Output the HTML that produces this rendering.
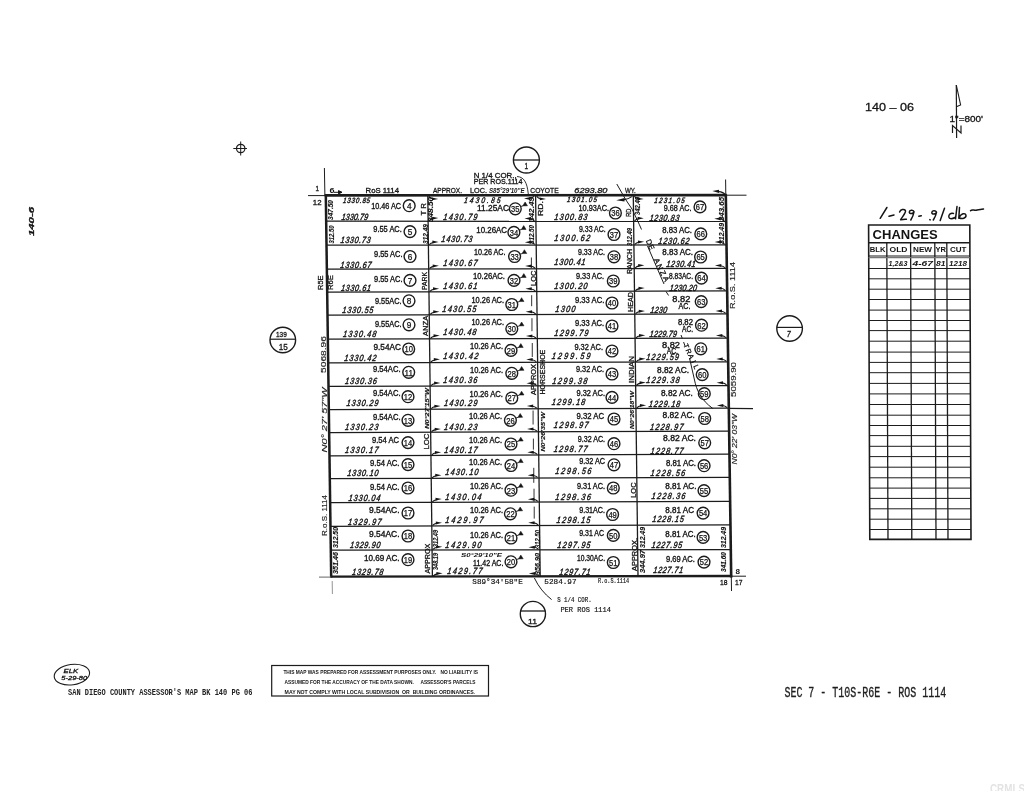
<!DOCTYPE html>
<html><head><meta charset="utf-8"><title>Assessor Map</title>
<style>
html,body{margin:0;padding:0;background:#fff;}
body{width:1024px;height:791px;overflow:hidden;font-family:"Liberation Sans",sans-serif;}
svg{display:block;filter:grayscale(100%);}
</style></head><body>
<svg width="1024" height="791" viewBox="0 0 1024 791" font-family="Liberation Sans, sans-serif">
<rect width="1024" height="791" fill="#ffffff"/>
<line x1="326.17" y1="221.2" x2="726.17" y2="221.4" stroke="#1c1c1c" stroke-width="1.25"/>
<line x1="326.51" y1="245.2" x2="726.5" y2="244.8" stroke="#1c1c1c" stroke-width="1.25"/>
<line x1="326.85" y1="269.2" x2="726.83" y2="268.3" stroke="#1c1c1c" stroke-width="1.25"/>
<line x1="327.17" y1="292.2" x2="727.15" y2="290.9" stroke="#1c1c1c" stroke-width="1.25"/>
<line x1="327.5" y1="315.2" x2="727.48" y2="313.8" stroke="#1c1c1c" stroke-width="1.25"/>
<line x1="327.84" y1="339" x2="727.82" y2="338.2" stroke="#1c1c1c" stroke-width="1.25"/>
<line x1="328.17" y1="362.8" x2="728.16" y2="361.8" stroke="#1c1c1c" stroke-width="1.25"/>
<line x1="328.51" y1="386.3" x2="728.49" y2="385.5" stroke="#1c1c1c" stroke-width="1.25"/>
<line x1="328.83" y1="409.5" x2="728.81" y2="408.1" stroke="#1c1c1c" stroke-width="1.25"/>
<line x1="329.16" y1="432.6" x2="729.14" y2="431.1" stroke="#1c1c1c" stroke-width="1.25"/>
<line x1="329.49" y1="455.8" x2="729.47" y2="454.2" stroke="#1c1c1c" stroke-width="1.25"/>
<line x1="329.81" y1="478.7" x2="729.8" y2="477.4" stroke="#1c1c1c" stroke-width="1.25"/>
<line x1="330.15" y1="502.6" x2="730.13" y2="501.3" stroke="#1c1c1c" stroke-width="1.25"/>
<line x1="330.49" y1="526.3" x2="730.47" y2="524.8" stroke="#1c1c1c" stroke-width="1.25"/>
<line x1="330.82" y1="550" x2="730.82" y2="549.7" stroke="#1c1c1c" stroke-width="1.25"/>
<line x1="324.8" y1="195.4" x2="726.8" y2="195.1" stroke="#1c1c1c" stroke-width="2.6"/>
<line x1="330.2" y1="576.6" x2="732.19" y2="576" stroke="#1c1c1c" stroke-width="2.4"/>
<line x1="427.8" y1="195.3" x2="432.4" y2="576.5" stroke="#1c1c1c" stroke-width="1.3"/>
<line x1="535.6" y1="195.3" x2="540.2" y2="576.5" stroke="#1c1c1c" stroke-width="1.3"/>
<line x1="633.3" y1="195.3" x2="638" y2="576.5" stroke="#1c1c1c" stroke-width="1.3"/>
<line x1="325.8" y1="194.5" x2="331.2" y2="577.5" stroke="#1c1c1c" stroke-width="2.5"/>
<line x1="725.8" y1="194.5" x2="731.2" y2="577.5" stroke="#1c1c1c" stroke-width="2.6"/>
<line x1="324.4" y1="168" x2="324.9" y2="195.5" stroke="#1c1c1c" stroke-width="1"/>
<line x1="308" y1="195.6" x2="326" y2="195.6" stroke="#1c1c1c" stroke-width="1"/>
<line x1="725.6" y1="179.5" x2="725.8" y2="195" stroke="#1c1c1c" stroke-width="1"/>
<line x1="726" y1="195.2" x2="746.5" y2="195.2" stroke="#1c1c1c" stroke-width="1"/>
<line x1="731.3" y1="577" x2="731.5" y2="591" stroke="#1c1c1c" stroke-width="1"/>
<line x1="731" y1="576.2" x2="746" y2="576.2" stroke="#1c1c1c" stroke-width="1"/>
<line x1="319" y1="577.1" x2="331" y2="577.1" stroke="#666" stroke-width="1"/>
<line x1="729" y1="408.3" x2="753" y2="408.7" stroke="#1c1c1c" stroke-width="1.2"/>
<line x1="332.2" y1="581" x2="332.4" y2="594" stroke="#888" stroke-width="0.9"/>
<text x="371.2" y="206" font-size="8.3" stroke="#141414" stroke-width="0.35" textLength="29.9" lengthAdjust="spacingAndGlyphs" fill="#141414" dominant-baseline="central">10.46 AC</text>
<circle cx="409.2" cy="205.7" r="5.9" stroke="#1c1c1c" stroke-width="1.4" fill="none"/>
<text x="406.9" y="206" font-size="8.4" stroke="#141414" stroke-width="0.25" textLength="4.6" lengthAdjust="spacingAndGlyphs" fill="#141414" dominant-baseline="central">4</text>
<text transform="translate(341.7 217.7) skewX(-9) scale(0.8 1)" x="0" y="0" font-size="9" font-style="italic" stroke="#141414" stroke-width="0.42" textLength="33" lengthAdjust="spacing" fill="#141414" dominant-baseline="central">1330.79</text>
<text x="373.3" y="229" font-size="8.3" stroke="#141414" stroke-width="0.35" textLength="28.5" lengthAdjust="spacingAndGlyphs" fill="#141414" dominant-baseline="central">9.55 AC.</text>
<circle cx="410" cy="231.6" r="5.9" stroke="#1c1c1c" stroke-width="1.4" fill="none"/>
<text x="407.7" y="231.9" font-size="8.4" stroke="#141414" stroke-width="0.25" textLength="4.6" lengthAdjust="spacingAndGlyphs" fill="#141414" dominant-baseline="central">5</text>
<text transform="translate(340.7 240.6) skewX(-9) scale(0.8 1)" x="0" y="0" font-size="9" font-style="italic" stroke="#141414" stroke-width="0.42" textLength="37.5" lengthAdjust="spacing" fill="#141414" dominant-baseline="central">1330.73</text>
<text x="374" y="254.3" font-size="8.3" stroke="#141414" stroke-width="0.35" textLength="28.5" lengthAdjust="spacingAndGlyphs" fill="#141414" dominant-baseline="central">9.55 AC.</text>
<circle cx="410" cy="256.5" r="5.9" stroke="#1c1c1c" stroke-width="1.4" fill="none"/>
<text x="407.7" y="256.8" font-size="8.4" stroke="#141414" stroke-width="0.25" textLength="4.6" lengthAdjust="spacingAndGlyphs" fill="#141414" dominant-baseline="central">6</text>
<text transform="translate(340.5 264.8) skewX(-9) scale(0.8 1)" x="0" y="0" font-size="9" font-style="italic" stroke="#141414" stroke-width="0.42" textLength="38.75" lengthAdjust="spacing" fill="#141414" dominant-baseline="central">1330.67</text>
<text x="374" y="279" font-size="8.3" stroke="#141414" stroke-width="0.35" textLength="28.5" lengthAdjust="spacingAndGlyphs" fill="#141414" dominant-baseline="central">9.55 AC.</text>
<circle cx="410" cy="280.4" r="5.9" stroke="#1c1c1c" stroke-width="1.4" fill="none"/>
<text x="407.7" y="280.7" font-size="8.4" stroke="#141414" stroke-width="0.25" textLength="4.6" lengthAdjust="spacingAndGlyphs" fill="#141414" dominant-baseline="central">7</text>
<text transform="translate(341.1 287.8) skewX(-9) scale(0.8 1)" x="0" y="0" font-size="9" font-style="italic" stroke="#141414" stroke-width="0.42" textLength="37.37" lengthAdjust="spacing" fill="#141414" dominant-baseline="central">1330.61</text>
<text x="375" y="301" font-size="8.3" stroke="#141414" stroke-width="0.35" textLength="26.5" lengthAdjust="spacingAndGlyphs" fill="#141414" dominant-baseline="central">9.55AC.</text>
<circle cx="409" cy="300.8" r="5.9" stroke="#1c1c1c" stroke-width="1.4" fill="none"/>
<text x="406.7" y="301.1" font-size="8.4" stroke="#141414" stroke-width="0.25" textLength="4.6" lengthAdjust="spacingAndGlyphs" fill="#141414" dominant-baseline="central">8</text>
<text transform="translate(342.5 310.6) skewX(-9) scale(0.8 1)" x="0" y="0" font-size="9" font-style="italic" stroke="#141414" stroke-width="0.42" textLength="38.75" lengthAdjust="spacing" fill="#141414" dominant-baseline="central">1330.55</text>
<text x="375" y="324" font-size="8.3" stroke="#141414" stroke-width="0.35" textLength="26.5" lengthAdjust="spacingAndGlyphs" fill="#141414" dominant-baseline="central">9.55AC.</text>
<circle cx="409" cy="324.8" r="5.9" stroke="#1c1c1c" stroke-width="1.4" fill="none"/>
<text x="406.7" y="325.1" font-size="8.4" stroke="#141414" stroke-width="0.25" textLength="4.6" lengthAdjust="spacingAndGlyphs" fill="#141414" dominant-baseline="central">9</text>
<text transform="translate(343.2 334.6) skewX(-9) scale(0.8 1)" x="0" y="0" font-size="9" font-style="italic" stroke="#141414" stroke-width="0.42" textLength="41.63" lengthAdjust="spacing" fill="#141414" dominant-baseline="central">1330.48</text>
<text x="373.5" y="347" font-size="8.3" stroke="#141414" stroke-width="0.35" textLength="27.5" lengthAdjust="spacingAndGlyphs" fill="#141414" dominant-baseline="central">9.54AC</text>
<circle cx="408.7" cy="349" r="5.9" stroke="#1c1c1c" stroke-width="1.4" fill="none"/>
<text x="404.5" y="349.3" font-size="8.4" stroke="#141414" stroke-width="0.25" textLength="8.4" lengthAdjust="spacingAndGlyphs" fill="#141414" dominant-baseline="central">10</text>
<text transform="translate(344.5 358.4) skewX(-9) scale(0.8 1)" x="0" y="0" font-size="9" font-style="italic" stroke="#141414" stroke-width="0.42" textLength="40" lengthAdjust="spacing" fill="#141414" dominant-baseline="central">1330.42</text>
<text x="373" y="369.3" font-size="8.3" stroke="#141414" stroke-width="0.35" textLength="27.5" lengthAdjust="spacingAndGlyphs" fill="#141414" dominant-baseline="central">9.54AC.</text>
<circle cx="408.7" cy="372.3" r="5.9" stroke="#1c1c1c" stroke-width="1.4" fill="none"/>
<text x="404.5" y="372.6" font-size="8.4" stroke="#141414" stroke-width="0.25" textLength="8.4" lengthAdjust="spacingAndGlyphs" fill="#141414" dominant-baseline="central">11</text>
<text transform="translate(345.3 381.4) skewX(-9) scale(0.8 1)" x="0" y="0" font-size="9" font-style="italic" stroke="#141414" stroke-width="0.42" textLength="39.62" lengthAdjust="spacing" fill="#141414" dominant-baseline="central">1330.36</text>
<text x="373" y="393.2" font-size="8.3" stroke="#141414" stroke-width="0.35" textLength="27.5" lengthAdjust="spacingAndGlyphs" fill="#141414" dominant-baseline="central">9.54AC.</text>
<circle cx="408" cy="396.7" r="5.9" stroke="#1c1c1c" stroke-width="1.4" fill="none"/>
<text x="403.8" y="397" font-size="8.4" stroke="#141414" stroke-width="0.25" textLength="8.4" lengthAdjust="spacingAndGlyphs" fill="#141414" dominant-baseline="central">12</text>
<text transform="translate(346.7 403.4) skewX(-9) scale(0.8 1)" x="0" y="0" font-size="9" font-style="italic" stroke="#141414" stroke-width="0.42" textLength="39.75" lengthAdjust="spacing" fill="#141414" dominant-baseline="central">1330.29</text>
<text x="373" y="416.9" font-size="8.3" stroke="#141414" stroke-width="0.35" textLength="27.5" lengthAdjust="spacingAndGlyphs" fill="#141414" dominant-baseline="central">9.54AC.</text>
<circle cx="408" cy="420.3" r="5.9" stroke="#1c1c1c" stroke-width="1.4" fill="none"/>
<text x="403.8" y="420.6" font-size="8.4" stroke="#141414" stroke-width="0.25" textLength="8.4" lengthAdjust="spacingAndGlyphs" fill="#141414" dominant-baseline="central">13</text>
<text transform="translate(345.3 427.4) skewX(-9) scale(0.8 1)" x="0" y="0" font-size="9" font-style="italic" stroke="#141414" stroke-width="0.42" textLength="41.5" lengthAdjust="spacing" fill="#141414" dominant-baseline="central">1330.23</text>
<text x="372" y="439.8" font-size="8.3" stroke="#141414" stroke-width="0.35" textLength="27" lengthAdjust="spacingAndGlyphs" fill="#141414" dominant-baseline="central">9.54 AC</text>
<circle cx="408" cy="442.6" r="5.9" stroke="#1c1c1c" stroke-width="1.4" fill="none"/>
<text x="403.8" y="442.9" font-size="8.4" stroke="#141414" stroke-width="0.25" textLength="8.4" lengthAdjust="spacingAndGlyphs" fill="#141414" dominant-baseline="central">14</text>
<text transform="translate(345.3 450.6) skewX(-9) scale(0.8 1)" x="0" y="0" font-size="9" font-style="italic" stroke="#141414" stroke-width="0.42" textLength="41.5" lengthAdjust="spacing" fill="#141414" dominant-baseline="central">1330.17</text>
<text x="370" y="462.8" font-size="8.3" stroke="#141414" stroke-width="0.35" textLength="29.5" lengthAdjust="spacingAndGlyphs" fill="#141414" dominant-baseline="central">9.54 AC.</text>
<circle cx="408" cy="464.6" r="5.9" stroke="#1c1c1c" stroke-width="1.4" fill="none"/>
<text x="403.8" y="464.9" font-size="8.4" stroke="#141414" stroke-width="0.25" textLength="8.4" lengthAdjust="spacingAndGlyphs" fill="#141414" dominant-baseline="central">15</text>
<text transform="translate(347.4 472.9) skewX(-9) scale(0.8 1)" x="0" y="0" font-size="9" font-style="italic" stroke="#141414" stroke-width="0.42" textLength="38.88" lengthAdjust="spacing" fill="#141414" dominant-baseline="central">1330.10</text>
<text x="370" y="487.4" font-size="8.3" stroke="#141414" stroke-width="0.35" textLength="29.5" lengthAdjust="spacingAndGlyphs" fill="#141414" dominant-baseline="central">9.54 AC.</text>
<circle cx="408" cy="488" r="5.9" stroke="#1c1c1c" stroke-width="1.4" fill="none"/>
<text x="403.8" y="488.3" font-size="8.4" stroke="#141414" stroke-width="0.25" textLength="8.4" lengthAdjust="spacingAndGlyphs" fill="#141414" dominant-baseline="central">16</text>
<text transform="translate(348.7 498.2) skewX(-9) scale(0.8 1)" x="0" y="0" font-size="9" font-style="italic" stroke="#141414" stroke-width="0.42" textLength="39.75" lengthAdjust="spacing" fill="#141414" dominant-baseline="central">1330.04</text>
<text x="369" y="510.3" font-size="8.3" stroke="#141414" stroke-width="0.35" textLength="30.5" lengthAdjust="spacingAndGlyphs" fill="#141414" dominant-baseline="central">9.54AC.</text>
<circle cx="408" cy="513" r="5.9" stroke="#1c1c1c" stroke-width="1.4" fill="none"/>
<text x="403.8" y="513.3" font-size="8.4" stroke="#141414" stroke-width="0.25" textLength="8.4" lengthAdjust="spacingAndGlyphs" fill="#141414" dominant-baseline="central">17</text>
<text transform="translate(348.1 522.1) skewX(-9) scale(0.8 1)" x="0" y="0" font-size="9" font-style="italic" stroke="#141414" stroke-width="0.42" textLength="41.75" lengthAdjust="spacing" fill="#141414" dominant-baseline="central">1329.97</text>
<text x="369" y="534" font-size="8.3" stroke="#141414" stroke-width="0.35" textLength="30.5" lengthAdjust="spacingAndGlyphs" fill="#141414" dominant-baseline="central">9.54AC.</text>
<circle cx="408" cy="536" r="5.9" stroke="#1c1c1c" stroke-width="1.4" fill="none"/>
<text x="403.8" y="536.3" font-size="8.4" stroke="#141414" stroke-width="0.25" textLength="8.4" lengthAdjust="spacingAndGlyphs" fill="#141414" dominant-baseline="central">18</text>
<text transform="translate(350.1 545.5) skewX(-9) scale(0.8 1)" x="0" y="0" font-size="9" font-style="italic" stroke="#141414" stroke-width="0.42" textLength="38" lengthAdjust="spacing" fill="#141414" dominant-baseline="central">1329.90</text>
<text x="364" y="558.3" font-size="8.3" stroke="#141414" stroke-width="0.35" textLength="35.5" lengthAdjust="spacingAndGlyphs" fill="#141414" dominant-baseline="central">10.69 AC.</text>
<circle cx="408" cy="559.7" r="5.9" stroke="#1c1c1c" stroke-width="1.4" fill="none"/>
<text x="403.8" y="560" font-size="8.4" stroke="#141414" stroke-width="0.25" textLength="8.4" lengthAdjust="spacingAndGlyphs" fill="#141414" dominant-baseline="central">19</text>
<text transform="translate(352.2 571.9) skewX(-9) scale(0.8 1)" x="0" y="0" font-size="9" font-style="italic" stroke="#141414" stroke-width="0.42" textLength="39.13" lengthAdjust="spacing" fill="#141414" dominant-baseline="central">1329.78</text>
<text x="477" y="208" font-size="8.3" stroke="#141414" stroke-width="0.35" textLength="32" lengthAdjust="spacingAndGlyphs" fill="#141414" dominant-baseline="central">11.25AC</text>
<circle cx="515.3" cy="208.8" r="5.9" stroke="#1c1c1c" stroke-width="1.4" fill="none"/>
<text x="511.1" y="209.1" font-size="8.4" stroke="#141414" stroke-width="0.25" textLength="8.4" lengthAdjust="spacingAndGlyphs" fill="#141414" dominant-baseline="central">35</text>
<text transform="translate(443.5 217.1) skewX(-9) scale(0.8 1)" x="0" y="0" font-size="9" font-style="italic" stroke="#141414" stroke-width="0.42" textLength="42.5" lengthAdjust="spacing" fill="#141414" dominant-baseline="central">1430.79</text>
<text x="476.3" y="230.3" font-size="8.3" stroke="#141414" stroke-width="0.35" textLength="30.7" lengthAdjust="spacingAndGlyphs" fill="#141414" dominant-baseline="central">10.26AC</text>
<circle cx="513.9" cy="232.4" r="5.9" stroke="#1c1c1c" stroke-width="1.4" fill="none"/>
<text x="509.7" y="232.7" font-size="8.4" stroke="#141414" stroke-width="0.25" textLength="8.4" lengthAdjust="spacingAndGlyphs" fill="#141414" dominant-baseline="central">34</text>
<text transform="translate(441.5 239.1) skewX(-9) scale(0.8 1)" x="0" y="0" font-size="9" font-style="italic" stroke="#141414" stroke-width="0.42" textLength="38.75" lengthAdjust="spacing" fill="#141414" dominant-baseline="central">1430.73</text>
<text x="474" y="251.9" font-size="8.3" stroke="#141414" stroke-width="0.35" textLength="31.5" lengthAdjust="spacingAndGlyphs" fill="#141414" dominant-baseline="central">10.26 AC.</text>
<circle cx="514.6" cy="256.5" r="5.9" stroke="#1c1c1c" stroke-width="1.4" fill="none"/>
<text x="510.4" y="256.8" font-size="8.4" stroke="#141414" stroke-width="0.25" textLength="8.4" lengthAdjust="spacingAndGlyphs" fill="#141414" dominant-baseline="central">33</text>
<text transform="translate(443.5 263) skewX(-9) scale(0.8 1)" x="0" y="0" font-size="9" font-style="italic" stroke="#141414" stroke-width="0.42" textLength="42.5" lengthAdjust="spacing" fill="#141414" dominant-baseline="central">1430.67</text>
<text x="473" y="276.2" font-size="8.3" stroke="#141414" stroke-width="0.35" textLength="32" lengthAdjust="spacingAndGlyphs" fill="#141414" dominant-baseline="central">10.26AC.</text>
<circle cx="514" cy="280.4" r="5.9" stroke="#1c1c1c" stroke-width="1.4" fill="none"/>
<text x="509.8" y="280.7" font-size="8.4" stroke="#141414" stroke-width="0.25" textLength="8.4" lengthAdjust="spacingAndGlyphs" fill="#141414" dominant-baseline="central">32</text>
<text transform="translate(443.5 286.4) skewX(-9) scale(0.8 1)" x="0" y="0" font-size="9" font-style="italic" stroke="#141414" stroke-width="0.42" textLength="42.5" lengthAdjust="spacing" fill="#141414" dominant-baseline="central">1430.61</text>
<text x="471.5" y="299.6" font-size="8.3" stroke="#141414" stroke-width="0.35" textLength="32.5" lengthAdjust="spacingAndGlyphs" fill="#141414" dominant-baseline="central">10.26 AC.</text>
<circle cx="511.8" cy="304.5" r="5.9" stroke="#1c1c1c" stroke-width="1.4" fill="none"/>
<text x="507.6" y="304.8" font-size="8.4" stroke="#141414" stroke-width="0.25" textLength="8.4" lengthAdjust="spacingAndGlyphs" fill="#141414" dominant-baseline="central">31</text>
<text transform="translate(442.5 309.7) skewX(-9) scale(0.8 1)" x="0" y="0" font-size="9" font-style="italic" stroke="#141414" stroke-width="0.42" textLength="42.5" lengthAdjust="spacing" fill="#141414" dominant-baseline="central">1430.55</text>
<text x="471.5" y="321.9" font-size="8.3" stroke="#141414" stroke-width="0.35" textLength="32.5" lengthAdjust="spacingAndGlyphs" fill="#141414" dominant-baseline="central">10.26 AC.</text>
<circle cx="511.8" cy="328.8" r="5.9" stroke="#1c1c1c" stroke-width="1.4" fill="none"/>
<text x="507.6" y="329.1" font-size="8.4" stroke="#141414" stroke-width="0.25" textLength="8.4" lengthAdjust="spacingAndGlyphs" fill="#141414" dominant-baseline="central">30</text>
<text transform="translate(443.5 332) skewX(-9) scale(0.8 1)" x="0" y="0" font-size="9" font-style="italic" stroke="#141414" stroke-width="0.42" textLength="41.25" lengthAdjust="spacing" fill="#141414" dominant-baseline="central">1430.48</text>
<text x="470" y="346.2" font-size="8.3" stroke="#141414" stroke-width="0.35" textLength="33" lengthAdjust="spacingAndGlyphs" fill="#141414" dominant-baseline="central">10.26 AC.</text>
<circle cx="511" cy="350.4" r="5.9" stroke="#1c1c1c" stroke-width="1.4" fill="none"/>
<text x="506.8" y="350.7" font-size="8.4" stroke="#141414" stroke-width="0.25" textLength="8.4" lengthAdjust="spacingAndGlyphs" fill="#141414" dominant-baseline="central">29</text>
<text transform="translate(443.5 356.4) skewX(-9) scale(0.8 1)" x="0" y="0" font-size="9" font-style="italic" stroke="#141414" stroke-width="0.42" textLength="43.75" lengthAdjust="spacing" fill="#141414" dominant-baseline="central">1430.42</text>
<text x="470" y="370.1" font-size="8.3" stroke="#141414" stroke-width="0.35" textLength="33" lengthAdjust="spacingAndGlyphs" fill="#141414" dominant-baseline="central">10.26 AC.</text>
<circle cx="511.8" cy="373.3" r="5.9" stroke="#1c1c1c" stroke-width="1.4" fill="none"/>
<text x="507.6" y="373.6" font-size="8.4" stroke="#141414" stroke-width="0.25" textLength="8.4" lengthAdjust="spacingAndGlyphs" fill="#141414" dominant-baseline="central">28</text>
<text transform="translate(443.5 380.7) skewX(-9) scale(0.8 1)" x="0" y="0" font-size="9" font-style="italic" stroke="#141414" stroke-width="0.42" textLength="42.5" lengthAdjust="spacing" fill="#141414" dominant-baseline="central">1430.36</text>
<text x="469.4" y="393.6" font-size="8.3" stroke="#141414" stroke-width="0.35" textLength="33.6" lengthAdjust="spacingAndGlyphs" fill="#141414" dominant-baseline="central">10.26 AC.</text>
<circle cx="511.8" cy="398" r="5.9" stroke="#1c1c1c" stroke-width="1.4" fill="none"/>
<text x="507.6" y="398.3" font-size="8.4" stroke="#141414" stroke-width="0.25" textLength="8.4" lengthAdjust="spacingAndGlyphs" fill="#141414" dominant-baseline="central">27</text>
<text transform="translate(444.1 403.4) skewX(-9) scale(0.8 1)" x="0" y="0" font-size="9" font-style="italic" stroke="#141414" stroke-width="0.42" textLength="41.75" lengthAdjust="spacing" fill="#141414" dominant-baseline="central">1430.29</text>
<text x="469" y="416.4" font-size="8.3" stroke="#141414" stroke-width="0.35" textLength="33" lengthAdjust="spacingAndGlyphs" fill="#141414" dominant-baseline="central">10.26 AC.</text>
<circle cx="510.4" cy="420.3" r="5.9" stroke="#1c1c1c" stroke-width="1.4" fill="none"/>
<text x="506.2" y="420.6" font-size="8.4" stroke="#141414" stroke-width="0.25" textLength="8.4" lengthAdjust="spacingAndGlyphs" fill="#141414" dominant-baseline="central">26</text>
<text transform="translate(444.1 427.4) skewX(-9) scale(0.8 1)" x="0" y="0" font-size="9" font-style="italic" stroke="#141414" stroke-width="0.42" textLength="41.75" lengthAdjust="spacing" fill="#141414" dominant-baseline="central">1430.23</text>
<text x="469" y="439.5" font-size="8.3" stroke="#141414" stroke-width="0.35" textLength="33" lengthAdjust="spacingAndGlyphs" fill="#141414" dominant-baseline="central">10.26 AC.</text>
<circle cx="511" cy="444" r="5.9" stroke="#1c1c1c" stroke-width="1.4" fill="none"/>
<text x="506.8" y="444.3" font-size="8.4" stroke="#141414" stroke-width="0.25" textLength="8.4" lengthAdjust="spacingAndGlyphs" fill="#141414" dominant-baseline="central">25</text>
<text transform="translate(444.5 449.9) skewX(-9) scale(0.8 1)" x="0" y="0" font-size="9" font-style="italic" stroke="#141414" stroke-width="0.42" textLength="41.25" lengthAdjust="spacing" fill="#141414" dominant-baseline="central">1430.17</text>
<text x="469" y="462" font-size="8.3" stroke="#141414" stroke-width="0.35" textLength="33" lengthAdjust="spacingAndGlyphs" fill="#141414" dominant-baseline="central">10.26 AC.</text>
<circle cx="511" cy="465.5" r="5.9" stroke="#1c1c1c" stroke-width="1.4" fill="none"/>
<text x="506.8" y="465.8" font-size="8.4" stroke="#141414" stroke-width="0.25" textLength="8.4" lengthAdjust="spacingAndGlyphs" fill="#141414" dominant-baseline="central">24</text>
<text transform="translate(445.5 472.2) skewX(-9) scale(0.8 1)" x="0" y="0" font-size="9" font-style="italic" stroke="#141414" stroke-width="0.42" textLength="41.25" lengthAdjust="spacing" fill="#141414" dominant-baseline="central">1430.10</text>
<text x="470" y="486" font-size="8.3" stroke="#141414" stroke-width="0.35" textLength="33" lengthAdjust="spacingAndGlyphs" fill="#141414" dominant-baseline="central">10.26 AC.</text>
<circle cx="511" cy="490.2" r="5.9" stroke="#1c1c1c" stroke-width="1.4" fill="none"/>
<text x="506.8" y="490.5" font-size="8.4" stroke="#141414" stroke-width="0.25" textLength="8.4" lengthAdjust="spacingAndGlyphs" fill="#141414" dominant-baseline="central">23</text>
<text transform="translate(445.5 496.8) skewX(-9) scale(0.8 1)" x="0" y="0" font-size="9" font-style="italic" stroke="#141414" stroke-width="0.42" textLength="45" lengthAdjust="spacing" fill="#141414" dominant-baseline="central">1430.04</text>
<text x="470" y="509.6" font-size="8.3" stroke="#141414" stroke-width="0.35" textLength="33" lengthAdjust="spacingAndGlyphs" fill="#141414" dominant-baseline="central">10.26 AC.</text>
<circle cx="510.4" cy="513.8" r="5.9" stroke="#1c1c1c" stroke-width="1.4" fill="none"/>
<text x="506.2" y="514.1" font-size="8.4" stroke="#141414" stroke-width="0.25" textLength="8.4" lengthAdjust="spacingAndGlyphs" fill="#141414" dominant-baseline="central">22</text>
<text transform="translate(445.5 520.7) skewX(-9) scale(0.8 1)" x="0" y="0" font-size="9" font-style="italic" stroke="#141414" stroke-width="0.42" textLength="47.5" lengthAdjust="spacing" fill="#141414" dominant-baseline="central">1429.97</text>
<text x="470" y="534.7" font-size="8.3" stroke="#141414" stroke-width="0.35" textLength="33" lengthAdjust="spacingAndGlyphs" fill="#141414" dominant-baseline="central">10.26 AC.</text>
<circle cx="511" cy="538" r="5.9" stroke="#1c1c1c" stroke-width="1.4" fill="none"/>
<text x="506.8" y="538.3" font-size="8.4" stroke="#141414" stroke-width="0.25" textLength="8.4" lengthAdjust="spacingAndGlyphs" fill="#141414" dominant-baseline="central">21</text>
<text transform="translate(445.5 545.5) skewX(-9) scale(0.8 1)" x="0" y="0" font-size="9" font-style="italic" stroke="#141414" stroke-width="0.42" textLength="45" lengthAdjust="spacing" fill="#141414" dominant-baseline="central">1429.90</text>
<text x="473" y="562.5" font-size="8.3" stroke="#141414" stroke-width="0.35" textLength="30.4" lengthAdjust="spacingAndGlyphs" fill="#141414" dominant-baseline="central">11.42 AC.</text>
<circle cx="511" cy="561.8" r="5.9" stroke="#1c1c1c" stroke-width="1.4" fill="none"/>
<text x="506.8" y="562.1" font-size="8.4" stroke="#141414" stroke-width="0.25" textLength="8.4" lengthAdjust="spacingAndGlyphs" fill="#141414" dominant-baseline="central">20</text>
<text transform="translate(447.5 571.2) skewX(-9) scale(0.8 1)" x="0" y="0" font-size="9" font-style="italic" stroke="#141414" stroke-width="0.42" textLength="43.75" lengthAdjust="spacing" fill="#141414" dominant-baseline="central">1429.77</text>
<text x="578.5" y="207.8" font-size="8.3" stroke="#141414" stroke-width="0.35" textLength="30.5" lengthAdjust="spacingAndGlyphs" fill="#141414" dominant-baseline="central">10.93AC.</text>
<circle cx="615.4" cy="213" r="5.9" stroke="#1c1c1c" stroke-width="1.4" fill="none"/>
<text x="611.2" y="213.3" font-size="8.4" stroke="#141414" stroke-width="0.25" textLength="8.4" lengthAdjust="spacingAndGlyphs" fill="#141414" dominant-baseline="central">36</text>
<text transform="translate(554.5 217.5) skewX(-9) scale(0.8 1)" x="0" y="0" font-size="9" font-style="italic" stroke="#141414" stroke-width="0.42" textLength="41.25" lengthAdjust="spacing" fill="#141414" dominant-baseline="central">1300.83</text>
<text x="579" y="229" font-size="8.3" stroke="#141414" stroke-width="0.35" textLength="26.7" lengthAdjust="spacingAndGlyphs" fill="#141414" dominant-baseline="central">9.33 AC.</text>
<circle cx="614" cy="234.5" r="5.9" stroke="#1c1c1c" stroke-width="1.4" fill="none"/>
<text x="609.8" y="234.8" font-size="8.4" stroke="#141414" stroke-width="0.25" textLength="8.4" lengthAdjust="spacingAndGlyphs" fill="#141414" dominant-baseline="central">37</text>
<text transform="translate(554.5 238.4) skewX(-9) scale(0.8 1)" x="0" y="0" font-size="9" font-style="italic" stroke="#141414" stroke-width="0.42" textLength="44.63" lengthAdjust="spacing" fill="#141414" dominant-baseline="central">1300.62</text>
<text x="578" y="251.9" font-size="8.3" stroke="#141414" stroke-width="0.35" textLength="27" lengthAdjust="spacingAndGlyphs" fill="#141414" dominant-baseline="central">9.33 AC.</text>
<circle cx="614" cy="256.8" r="5.9" stroke="#1c1c1c" stroke-width="1.4" fill="none"/>
<text x="609.8" y="257.1" font-size="8.4" stroke="#141414" stroke-width="0.25" textLength="8.4" lengthAdjust="spacingAndGlyphs" fill="#141414" dominant-baseline="central">38</text>
<text transform="translate(554.5 262.7) skewX(-9) scale(0.8 1)" x="0" y="0" font-size="9" font-style="italic" stroke="#141414" stroke-width="0.42" textLength="38.75" lengthAdjust="spacing" fill="#141414" dominant-baseline="central">1300.41</text>
<text x="576" y="276.2" font-size="8.3" stroke="#141414" stroke-width="0.35" textLength="28" lengthAdjust="spacingAndGlyphs" fill="#141414" dominant-baseline="central">9.33 AC.</text>
<circle cx="613.3" cy="281" r="5.9" stroke="#1c1c1c" stroke-width="1.4" fill="none"/>
<text x="609.1" y="281.3" font-size="8.4" stroke="#141414" stroke-width="0.25" textLength="8.4" lengthAdjust="spacingAndGlyphs" fill="#141414" dominant-baseline="central">39</text>
<text transform="translate(554.5 286.4) skewX(-9) scale(0.8 1)" x="0" y="0" font-size="9" font-style="italic" stroke="#141414" stroke-width="0.42" textLength="41.25" lengthAdjust="spacing" fill="#141414" dominant-baseline="central">1300.20</text>
<text x="575" y="299.6" font-size="8.3" stroke="#141414" stroke-width="0.35" textLength="29.3" lengthAdjust="spacingAndGlyphs" fill="#141414" dominant-baseline="central">9.33 AC.</text>
<circle cx="612" cy="303" r="5.9" stroke="#1c1c1c" stroke-width="1.4" fill="none"/>
<text x="607.8" y="303.3" font-size="8.4" stroke="#141414" stroke-width="0.25" textLength="8.4" lengthAdjust="spacingAndGlyphs" fill="#141414" dominant-baseline="central">40</text>
<text transform="translate(555.5 309) skewX(-9) scale(0.8 1)" x="0" y="0" font-size="9" font-style="italic" stroke="#141414" stroke-width="0.42" textLength="25" lengthAdjust="spacing" fill="#141414" dominant-baseline="central">1300</text>
<text x="575" y="322.6" font-size="8.3" stroke="#141414" stroke-width="0.35" textLength="29" lengthAdjust="spacingAndGlyphs" fill="#141414" dominant-baseline="central">9.33 AC.</text>
<circle cx="612" cy="326" r="5.9" stroke="#1c1c1c" stroke-width="1.4" fill="none"/>
<text x="607.8" y="326.3" font-size="8.4" stroke="#141414" stroke-width="0.25" textLength="8.4" lengthAdjust="spacingAndGlyphs" fill="#141414" dominant-baseline="central">41</text>
<text transform="translate(554.5 333.4) skewX(-9) scale(0.8 1)" x="0" y="0" font-size="9" font-style="italic" stroke="#141414" stroke-width="0.42" textLength="42.5" lengthAdjust="spacing" fill="#141414" dominant-baseline="central">1299.79</text>
<text x="574.4" y="346.9" font-size="8.3" stroke="#141414" stroke-width="0.35" textLength="28.6" lengthAdjust="spacingAndGlyphs" fill="#141414" dominant-baseline="central">9.32 AC.</text>
<circle cx="612" cy="351" r="5.9" stroke="#1c1c1c" stroke-width="1.4" fill="none"/>
<text x="607.8" y="351.3" font-size="8.4" stroke="#141414" stroke-width="0.25" textLength="8.4" lengthAdjust="spacingAndGlyphs" fill="#141414" dominant-baseline="central">42</text>
<text transform="translate(551.9 356.4) skewX(-9) scale(0.8 1)" x="0" y="0" font-size="9" font-style="italic" stroke="#141414" stroke-width="0.42" textLength="48.25" lengthAdjust="spacing" fill="#141414" dominant-baseline="central">1299.59</text>
<text x="576" y="369.1" font-size="8.3" stroke="#141414" stroke-width="0.35" textLength="28" lengthAdjust="spacingAndGlyphs" fill="#141414" dominant-baseline="central">9.32 AC.</text>
<circle cx="612" cy="374" r="5.9" stroke="#1c1c1c" stroke-width="1.4" fill="none"/>
<text x="607.8" y="374.3" font-size="8.4" stroke="#141414" stroke-width="0.25" textLength="8.4" lengthAdjust="spacingAndGlyphs" fill="#141414" dominant-baseline="central">43</text>
<text transform="translate(552.5 381.1) skewX(-9) scale(0.8 1)" x="0" y="0" font-size="9" font-style="italic" stroke="#141414" stroke-width="0.42" textLength="43.75" lengthAdjust="spacing" fill="#141414" dominant-baseline="central">1299.38</text>
<text x="576.5" y="393.2" font-size="8.3" stroke="#141414" stroke-width="0.35" textLength="28.5" lengthAdjust="spacingAndGlyphs" fill="#141414" dominant-baseline="central">9.32 AC.</text>
<circle cx="612" cy="397.4" r="5.9" stroke="#1c1c1c" stroke-width="1.4" fill="none"/>
<text x="607.8" y="397.7" font-size="8.4" stroke="#141414" stroke-width="0.25" textLength="8.4" lengthAdjust="spacingAndGlyphs" fill="#141414" dominant-baseline="central">44</text>
<text transform="translate(551.9 402.7) skewX(-9) scale(0.8 1)" x="0" y="0" font-size="9" font-style="italic" stroke="#141414" stroke-width="0.42" textLength="41.75" lengthAdjust="spacing" fill="#141414" dominant-baseline="central">1299.18</text>
<text x="576.5" y="415.5" font-size="8.3" stroke="#141414" stroke-width="0.35" textLength="27.5" lengthAdjust="spacingAndGlyphs" fill="#141414" dominant-baseline="central">9.32 AC</text>
<circle cx="614" cy="419" r="5.9" stroke="#1c1c1c" stroke-width="1.4" fill="none"/>
<text x="609.8" y="419.3" font-size="8.4" stroke="#141414" stroke-width="0.25" textLength="8.4" lengthAdjust="spacingAndGlyphs" fill="#141414" dominant-baseline="central">45</text>
<text transform="translate(554 425.6) skewX(-9) scale(0.8 1)" x="0" y="0" font-size="9" font-style="italic" stroke="#141414" stroke-width="0.42" textLength="43.12" lengthAdjust="spacing" fill="#141414" dominant-baseline="central">1298.97</text>
<text x="577.8" y="439.1" font-size="8.3" stroke="#141414" stroke-width="0.35" textLength="27.2" lengthAdjust="spacingAndGlyphs" fill="#141414" dominant-baseline="central">9.32 AC.</text>
<circle cx="614" cy="443.7" r="5.9" stroke="#1c1c1c" stroke-width="1.4" fill="none"/>
<text x="609.8" y="444" font-size="8.4" stroke="#141414" stroke-width="0.25" textLength="8.4" lengthAdjust="spacingAndGlyphs" fill="#141414" dominant-baseline="central">46</text>
<text transform="translate(554 448.8) skewX(-9) scale(0.8 1)" x="0" y="0" font-size="9" font-style="italic" stroke="#141414" stroke-width="0.42" textLength="41.88" lengthAdjust="spacing" fill="#141414" dominant-baseline="central">1298.77</text>
<text x="579.2" y="461.4" font-size="8.3" stroke="#141414" stroke-width="0.35" textLength="25.8" lengthAdjust="spacingAndGlyphs" fill="#141414" dominant-baseline="central">9.32 AC</text>
<circle cx="614" cy="464.8" r="5.9" stroke="#1c1c1c" stroke-width="1.4" fill="none"/>
<text x="609.8" y="465.1" font-size="8.4" stroke="#141414" stroke-width="0.25" textLength="8.4" lengthAdjust="spacingAndGlyphs" fill="#141414" dominant-baseline="central">47</text>
<text transform="translate(555.5 471.5) skewX(-9) scale(0.8 1)" x="0" y="0" font-size="9" font-style="italic" stroke="#141414" stroke-width="0.42" textLength="45" lengthAdjust="spacing" fill="#141414" dominant-baseline="central">1298.56</text>
<text x="577" y="485.5" font-size="8.3" stroke="#141414" stroke-width="0.35" textLength="28" lengthAdjust="spacingAndGlyphs" fill="#141414" dominant-baseline="central">9.31 AC.</text>
<circle cx="613.3" cy="488" r="5.9" stroke="#1c1c1c" stroke-width="1.4" fill="none"/>
<text x="609.1" y="488.3" font-size="8.4" stroke="#141414" stroke-width="0.25" textLength="8.4" lengthAdjust="spacingAndGlyphs" fill="#141414" dominant-baseline="central">48</text>
<text transform="translate(555.5 496.8) skewX(-9) scale(0.8 1)" x="0" y="0" font-size="9" font-style="italic" stroke="#141414" stroke-width="0.42" textLength="44.25" lengthAdjust="spacing" fill="#141414" dominant-baseline="central">1298.36</text>
<text x="579.2" y="509.6" font-size="8.3" stroke="#141414" stroke-width="0.35" textLength="25.8" lengthAdjust="spacingAndGlyphs" fill="#141414" dominant-baseline="central">9.31AC.</text>
<circle cx="612.6" cy="514.5" r="5.9" stroke="#1c1c1c" stroke-width="1.4" fill="none"/>
<text x="608.4" y="514.8" font-size="8.4" stroke="#141414" stroke-width="0.25" textLength="8.4" lengthAdjust="spacingAndGlyphs" fill="#141414" dominant-baseline="central">49</text>
<text transform="translate(556.8 520.4) skewX(-9) scale(0.8 1)" x="0" y="0" font-size="9" font-style="italic" stroke="#141414" stroke-width="0.42" textLength="42.13" lengthAdjust="spacing" fill="#141414" dominant-baseline="central">1298.15</text>
<text x="579.2" y="533.3" font-size="8.3" stroke="#141414" stroke-width="0.35" textLength="24.8" lengthAdjust="spacingAndGlyphs" fill="#141414" dominant-baseline="central">9.31 AC</text>
<circle cx="613.3" cy="535.4" r="5.9" stroke="#1c1c1c" stroke-width="1.4" fill="none"/>
<text x="609.1" y="535.7" font-size="8.4" stroke="#141414" stroke-width="0.25" textLength="8.4" lengthAdjust="spacingAndGlyphs" fill="#141414" dominant-baseline="central">50</text>
<text transform="translate(557.5 544.8) skewX(-9) scale(0.8 1)" x="0" y="0" font-size="9" font-style="italic" stroke="#141414" stroke-width="0.42" textLength="41.25" lengthAdjust="spacing" fill="#141414" dominant-baseline="central">1297.95</text>
<text x="577" y="558.3" font-size="8.3" stroke="#141414" stroke-width="0.35" textLength="28" lengthAdjust="spacingAndGlyphs" fill="#141414" dominant-baseline="central">10.30AC.</text>
<circle cx="613.3" cy="562.5" r="5.9" stroke="#1c1c1c" stroke-width="1.4" fill="none"/>
<text x="609.1" y="562.8" font-size="8.4" stroke="#141414" stroke-width="0.25" textLength="8.4" lengthAdjust="spacingAndGlyphs" fill="#141414" dominant-baseline="central">51</text>
<text transform="translate(559.5 571.9) skewX(-9) scale(0.8 1)" x="0" y="0" font-size="9" font-style="italic" stroke="#141414" stroke-width="0.42" textLength="38.75" lengthAdjust="spacing" fill="#141414" dominant-baseline="central">1297.71</text>
<text x="663.8" y="207.8" font-size="8.3" stroke="#141414" stroke-width="0.35" textLength="27.6" lengthAdjust="spacingAndGlyphs" fill="#141414" dominant-baseline="central">9.68 AC.</text>
<circle cx="700" cy="206.9" r="5.9" stroke="#1c1c1c" stroke-width="1.4" fill="none"/>
<text x="695.8" y="207.2" font-size="8.4" stroke="#141414" stroke-width="0.25" textLength="8.4" lengthAdjust="spacingAndGlyphs" fill="#141414" dominant-baseline="central">67</text>
<text transform="translate(649.7 217.9) skewX(-9) scale(0.8 1)" x="0" y="0" font-size="9" font-style="italic" stroke="#141414" stroke-width="0.42" textLength="37.12" lengthAdjust="spacing" fill="#141414" dominant-baseline="central">1230.83</text>
<text x="662.2" y="229.7" font-size="8.3" stroke="#141414" stroke-width="0.35" textLength="29.8" lengthAdjust="spacingAndGlyphs" fill="#141414" dominant-baseline="central">8.83 AC.</text>
<circle cx="700.8" cy="233.9" r="5.9" stroke="#1c1c1c" stroke-width="1.4" fill="none"/>
<text x="696.6" y="234.2" font-size="8.4" stroke="#141414" stroke-width="0.25" textLength="8.4" lengthAdjust="spacingAndGlyphs" fill="#141414" dominant-baseline="central">66</text>
<text transform="translate(658.5 241.4) skewX(-9) scale(0.8 1)" x="0" y="0" font-size="9" font-style="italic" stroke="#141414" stroke-width="0.42" textLength="38.75" lengthAdjust="spacing" fill="#141414" dominant-baseline="central">1230.62</text>
<text x="662.3" y="252.3" font-size="8.3" stroke="#141414" stroke-width="0.35" textLength="30.7" lengthAdjust="spacingAndGlyphs" fill="#141414" dominant-baseline="central">8.83 AC.</text>
<circle cx="700.6" cy="257" r="5.9" stroke="#1c1c1c" stroke-width="1.4" fill="none"/>
<text x="696.4" y="257.3" font-size="8.4" stroke="#141414" stroke-width="0.25" textLength="8.4" lengthAdjust="spacingAndGlyphs" fill="#141414" dominant-baseline="central">65</text>
<text transform="translate(666.5 264.4) skewX(-9) scale(0.8 1)" x="0" y="0" font-size="9" font-style="italic" stroke="#141414" stroke-width="0.42" textLength="36.62" lengthAdjust="spacing" fill="#141414" dominant-baseline="central">1230.41</text>
<text x="669" y="275.8" font-size="8.3" stroke="#141414" stroke-width="0.35" textLength="24" lengthAdjust="spacingAndGlyphs" fill="#141414" dominant-baseline="central">8.83AC.</text>
<circle cx="701.4" cy="278.1" r="5.9" stroke="#1c1c1c" stroke-width="1.4" fill="none"/>
<text x="697.2" y="278.4" font-size="8.4" stroke="#141414" stroke-width="0.25" textLength="8.4" lengthAdjust="spacingAndGlyphs" fill="#141414" dominant-baseline="central">64</text>
<text transform="translate(669.8 287.9) skewX(-9) scale(0.8 1)" x="0" y="0" font-size="9" font-style="italic" stroke="#141414" stroke-width="0.42" textLength="34" lengthAdjust="spacing" fill="#141414" dominant-baseline="central">1230.20</text>
<circle cx="701.2" cy="301.6" r="5.9" stroke="#1c1c1c" stroke-width="1.4" fill="none"/>
<text x="697" y="301.9" font-size="8.4" stroke="#141414" stroke-width="0.25" textLength="8.4" lengthAdjust="spacingAndGlyphs" fill="#141414" dominant-baseline="central">63</text>
<text transform="translate(650.5 310.7) skewX(-9) scale(0.8 1)" x="0" y="0" font-size="9" font-style="italic" stroke="#141414" stroke-width="0.42" textLength="20.88" lengthAdjust="spacing" fill="#141414" dominant-baseline="central">1230</text>
<circle cx="701.5" cy="325.2" r="5.9" stroke="#1c1c1c" stroke-width="1.4" fill="none"/>
<text x="697.3" y="325.5" font-size="8.4" stroke="#141414" stroke-width="0.25" textLength="8.4" lengthAdjust="spacingAndGlyphs" fill="#141414" dominant-baseline="central">62</text>
<text transform="translate(649.8 333.9) skewX(-9) scale(0.8 1)" x="0" y="0" font-size="9" font-style="italic" stroke="#141414" stroke-width="0.42" textLength="34" lengthAdjust="spacing" fill="#141414" dominant-baseline="central">1229.79</text>
<circle cx="700.8" cy="348.8" r="5.9" stroke="#1c1c1c" stroke-width="1.4" fill="none"/>
<text x="696.6" y="349.1" font-size="8.4" stroke="#141414" stroke-width="0.25" textLength="8.4" lengthAdjust="spacingAndGlyphs" fill="#141414" dominant-baseline="central">61</text>
<text transform="translate(646.4 356.9) skewX(-9) scale(0.8 1)" x="0" y="0" font-size="9" font-style="italic" stroke="#141414" stroke-width="0.42" textLength="40.75" lengthAdjust="spacing" fill="#141414" dominant-baseline="central">1229.59</text>
<text x="657" y="369.7" font-size="8.3" stroke="#141414" stroke-width="0.35" textLength="32" lengthAdjust="spacingAndGlyphs" fill="#141414" dominant-baseline="central">8.82 AC.</text>
<circle cx="702.2" cy="374.6" r="5.9" stroke="#1c1c1c" stroke-width="1.4" fill="none"/>
<text x="698" y="374.9" font-size="8.4" stroke="#141414" stroke-width="0.25" textLength="8.4" lengthAdjust="spacingAndGlyphs" fill="#141414" dominant-baseline="central">60</text>
<text transform="translate(646.4 380.3) skewX(-9) scale(0.8 1)" x="0" y="0" font-size="9" font-style="italic" stroke="#141414" stroke-width="0.42" textLength="41.63" lengthAdjust="spacing" fill="#141414" dominant-baseline="central">1229.38</text>
<text x="661" y="392.6" font-size="8.3" stroke="#141414" stroke-width="0.35" textLength="31.9" lengthAdjust="spacingAndGlyphs" fill="#141414" dominant-baseline="central">8.82 AC.</text>
<circle cx="704.3" cy="393.7" r="5.9" stroke="#1c1c1c" stroke-width="1.4" fill="none"/>
<text x="700.1" y="394" font-size="8.4" stroke="#141414" stroke-width="0.25" textLength="8.4" lengthAdjust="spacingAndGlyphs" fill="#141414" dominant-baseline="central">59</text>
<text transform="translate(649 404.4) skewX(-9) scale(0.8 1)" x="0" y="0" font-size="9" font-style="italic" stroke="#141414" stroke-width="0.42" textLength="39.12" lengthAdjust="spacing" fill="#141414" dominant-baseline="central">1229.18</text>
<text x="662.5" y="415.2" font-size="8.3" stroke="#141414" stroke-width="0.35" textLength="32.3" lengthAdjust="spacingAndGlyphs" fill="#141414" dominant-baseline="central">8.82 AC.</text>
<circle cx="704.7" cy="418.5" r="5.9" stroke="#1c1c1c" stroke-width="1.4" fill="none"/>
<text x="700.5" y="418.8" font-size="8.4" stroke="#141414" stroke-width="0.25" textLength="8.4" lengthAdjust="spacingAndGlyphs" fill="#141414" dominant-baseline="central">58</text>
<text transform="translate(650.1 426.8) skewX(-9) scale(0.8 1)" x="0" y="0" font-size="9" font-style="italic" stroke="#141414" stroke-width="0.42" textLength="41.75" lengthAdjust="spacing" fill="#141414" dominant-baseline="central">1228.97</text>
<text x="663" y="438.1" font-size="8.3" stroke="#141414" stroke-width="0.35" textLength="33" lengthAdjust="spacingAndGlyphs" fill="#141414" dominant-baseline="central">8.82 AC.</text>
<circle cx="704.7" cy="442.8" r="5.9" stroke="#1c1c1c" stroke-width="1.4" fill="none"/>
<text x="700.5" y="443.1" font-size="8.4" stroke="#141414" stroke-width="0.25" textLength="8.4" lengthAdjust="spacingAndGlyphs" fill="#141414" dominant-baseline="central">57</text>
<text transform="translate(650.7 450.8) skewX(-9) scale(0.8 1)" x="0" y="0" font-size="9" font-style="italic" stroke="#141414" stroke-width="0.42" textLength="41" lengthAdjust="spacing" fill="#141414" dominant-baseline="central">1228.77</text>
<text x="666" y="462.7" font-size="8.3" stroke="#141414" stroke-width="0.35" textLength="30" lengthAdjust="spacingAndGlyphs" fill="#141414" dominant-baseline="central">8.81 AC.</text>
<circle cx="704.1" cy="465.7" r="5.9" stroke="#1c1c1c" stroke-width="1.4" fill="none"/>
<text x="699.9" y="466" font-size="8.4" stroke="#141414" stroke-width="0.25" textLength="8.4" lengthAdjust="spacingAndGlyphs" fill="#141414" dominant-baseline="central">56</text>
<text transform="translate(650.7 473.1) skewX(-9) scale(0.8 1)" x="0" y="0" font-size="9" font-style="italic" stroke="#141414" stroke-width="0.42" textLength="43.25" lengthAdjust="spacing" fill="#141414" dominant-baseline="central">1228.56</text>
<text x="665.3" y="485.6" font-size="8.3" stroke="#141414" stroke-width="0.35" textLength="31.2" lengthAdjust="spacingAndGlyphs" fill="#141414" dominant-baseline="central">8.81 AC.</text>
<circle cx="704" cy="490.6" r="5.9" stroke="#1c1c1c" stroke-width="1.4" fill="none"/>
<text x="699.8" y="490.9" font-size="8.4" stroke="#141414" stroke-width="0.25" textLength="8.4" lengthAdjust="spacingAndGlyphs" fill="#141414" dominant-baseline="central">55</text>
<text transform="translate(651.8 496.7) skewX(-9) scale(0.8 1)" x="0" y="0" font-size="9" font-style="italic" stroke="#141414" stroke-width="0.42" textLength="42.13" lengthAdjust="spacing" fill="#141414" dominant-baseline="central">1228.36</text>
<text x="665.3" y="510.3" font-size="8.3" stroke="#141414" stroke-width="0.35" textLength="28.7" lengthAdjust="spacingAndGlyphs" fill="#141414" dominant-baseline="central">8.81 AC</text>
<circle cx="703.1" cy="513.1" r="5.9" stroke="#1c1c1c" stroke-width="1.4" fill="none"/>
<text x="698.9" y="513.4" font-size="8.4" stroke="#141414" stroke-width="0.25" textLength="8.4" lengthAdjust="spacingAndGlyphs" fill="#141414" dominant-baseline="central">54</text>
<text transform="translate(652.5 518.9) skewX(-9) scale(0.8 1)" x="0" y="0" font-size="9" font-style="italic" stroke="#141414" stroke-width="0.42" textLength="39.25" lengthAdjust="spacing" fill="#141414" dominant-baseline="central">1228.15</text>
<text x="665.3" y="534.1" font-size="8.3" stroke="#141414" stroke-width="0.35" textLength="30.4" lengthAdjust="spacingAndGlyphs" fill="#141414" dominant-baseline="central">8.81 AC.</text>
<circle cx="703.1" cy="537.4" r="5.9" stroke="#1c1c1c" stroke-width="1.4" fill="none"/>
<text x="698.9" y="537.7" font-size="8.4" stroke="#141414" stroke-width="0.25" textLength="8.4" lengthAdjust="spacingAndGlyphs" fill="#141414" dominant-baseline="central">53</text>
<text transform="translate(651.8 545.2) skewX(-9) scale(0.8 1)" x="0" y="0" font-size="9" font-style="italic" stroke="#141414" stroke-width="0.42" textLength="38" lengthAdjust="spacing" fill="#141414" dominant-baseline="central">1227.95</text>
<text x="666" y="558.8" font-size="8.3" stroke="#141414" stroke-width="0.35" textLength="28.9" lengthAdjust="spacingAndGlyphs" fill="#141414" dominant-baseline="central">9.69 AC.</text>
<circle cx="704" cy="562.1" r="5.9" stroke="#1c1c1c" stroke-width="1.4" fill="none"/>
<text x="699.8" y="562.4" font-size="8.4" stroke="#141414" stroke-width="0.25" textLength="8.4" lengthAdjust="spacingAndGlyphs" fill="#141414" dominant-baseline="central">52</text>
<text transform="translate(653.5 570.7) skewX(-9) scale(0.8 1)" x="0" y="0" font-size="9" font-style="italic" stroke="#141414" stroke-width="0.42" textLength="37" lengthAdjust="spacing" fill="#141414" dominant-baseline="central">1227.71</text>
<text x="672.3" y="298.8" font-size="8.3" stroke="#141414" stroke-width="0.35" textLength="18.1" lengthAdjust="spacingAndGlyphs" fill="#141414" dominant-baseline="central">8.82</text>
<text x="678.5" y="305.7" font-size="8.3" stroke="#141414" stroke-width="0.35" textLength="11.9" lengthAdjust="spacingAndGlyphs" fill="#141414" dominant-baseline="central">AC.</text>
<text x="677.9" y="321.7" font-size="8.3" stroke="#141414" stroke-width="0.35" textLength="15.1" lengthAdjust="spacingAndGlyphs" fill="#141414" dominant-baseline="central">8.82</text>
<text x="682" y="329.4" font-size="8.3" stroke="#141414" stroke-width="0.35" textLength="11" lengthAdjust="spacingAndGlyphs" fill="#141414" dominant-baseline="central">AC.</text>
<text x="661.9" y="345.4" font-size="8.3" stroke="#141414" stroke-width="0.35" textLength="18.1" lengthAdjust="spacingAndGlyphs" fill="#141414" dominant-baseline="central">8.82</text>
<text x="666.7" y="350.9" font-size="8.3" stroke="#141414" stroke-width="0.35" textLength="11.2" lengthAdjust="spacingAndGlyphs" fill="#141414" dominant-baseline="central">AC.</text>
<text transform="translate(343.3 200.3) skewX(-9) scale(0.8 1)" x="0" y="0" font-size="7.6" font-style="italic" stroke="#141414" stroke-width="0.42" textLength="33.62" lengthAdjust="spacing" fill="#141414" dominant-baseline="central">1330.85</text>
<text transform="translate(464.3 200) skewX(-9) scale(0.8 1)" x="0" y="0" font-size="8.2" font-style="italic" stroke="#141414" stroke-width="0.42" textLength="45.25" lengthAdjust="spacing" fill="#141414" dominant-baseline="central">1430.85</text>
<text transform="translate(567.2 199.7) skewX(-9) scale(0.8 1)" x="0" y="0" font-size="7.6" font-style="italic" stroke="#141414" stroke-width="0.42" textLength="37.37" lengthAdjust="spacing" fill="#141414" dominant-baseline="central">1301.05</text>
<text transform="translate(654.4 200) skewX(-9) scale(0.8 1)" x="0" y="0" font-size="7.6" font-style="italic" stroke="#141414" stroke-width="0.42" textLength="38.12" lengthAdjust="spacing" fill="#141414" dominant-baseline="central">1231.05</text>
<text x="461" y="555.1" font-size="6" font-style="italic" font-weight="bold" textLength="41" lengthAdjust="spacingAndGlyphs" fill="#141414" dominant-baseline="central">S0°29'10"E</text>
<path d="M522.7 205.9 L525.1 202 L527.5 205.8 Z" fill="#141414" stroke="#141414" stroke-width="0.5" stroke-linejoin="round"/>
<line x1="520.5" y1="206.6" x2="523.1" y2="205.8" stroke="#1c1c1c" stroke-width="0.9"/>
<path d="M521.3 229.5 L523.7 225.6 L526.1 229.4 Z" fill="#141414" stroke="#141414" stroke-width="0.5" stroke-linejoin="round"/>
<line x1="519.1" y1="230.2" x2="521.7" y2="229.4" stroke="#1c1c1c" stroke-width="0.9"/>
<path d="M522 253.6 L524.4 249.7 L526.8 253.5 Z" fill="#141414" stroke="#141414" stroke-width="0.5" stroke-linejoin="round"/>
<line x1="519.8" y1="254.3" x2="522.4" y2="253.5" stroke="#1c1c1c" stroke-width="0.9"/>
<path d="M521.4 277.5 L523.8 273.6 L526.2 277.4 Z" fill="#141414" stroke="#141414" stroke-width="0.5" stroke-linejoin="round"/>
<line x1="519.2" y1="278.2" x2="521.8" y2="277.4" stroke="#1c1c1c" stroke-width="0.9"/>
<path d="M519.2 301.6 L521.6 297.7 L524 301.5 Z" fill="#141414" stroke="#141414" stroke-width="0.5" stroke-linejoin="round"/>
<line x1="517" y1="302.3" x2="519.6" y2="301.5" stroke="#1c1c1c" stroke-width="0.9"/>
<path d="M519.2 325.9 L521.6 322 L524 325.8 Z" fill="#141414" stroke="#141414" stroke-width="0.5" stroke-linejoin="round"/>
<line x1="517" y1="326.6" x2="519.6" y2="325.8" stroke="#1c1c1c" stroke-width="0.9"/>
<path d="M518.4 347.5 L520.8 343.6 L523.2 347.4 Z" fill="#141414" stroke="#141414" stroke-width="0.5" stroke-linejoin="round"/>
<line x1="516.2" y1="348.2" x2="518.8" y2="347.4" stroke="#1c1c1c" stroke-width="0.9"/>
<path d="M519.2 370.4 L521.6 366.5 L524 370.3 Z" fill="#141414" stroke="#141414" stroke-width="0.5" stroke-linejoin="round"/>
<line x1="517" y1="371.1" x2="519.6" y2="370.3" stroke="#1c1c1c" stroke-width="0.9"/>
<path d="M519.2 395.1 L521.6 391.2 L524 395 Z" fill="#141414" stroke="#141414" stroke-width="0.5" stroke-linejoin="round"/>
<line x1="517" y1="395.8" x2="519.6" y2="395" stroke="#1c1c1c" stroke-width="0.9"/>
<path d="M517.8 417.4 L520.2 413.5 L522.6 417.3 Z" fill="#141414" stroke="#141414" stroke-width="0.5" stroke-linejoin="round"/>
<line x1="515.6" y1="418.1" x2="518.2" y2="417.3" stroke="#1c1c1c" stroke-width="0.9"/>
<path d="M518.4 441.1 L520.8 437.2 L523.2 441 Z" fill="#141414" stroke="#141414" stroke-width="0.5" stroke-linejoin="round"/>
<line x1="516.2" y1="441.8" x2="518.8" y2="441" stroke="#1c1c1c" stroke-width="0.9"/>
<path d="M518.4 462.6 L520.8 458.7 L523.2 462.5 Z" fill="#141414" stroke="#141414" stroke-width="0.5" stroke-linejoin="round"/>
<line x1="516.2" y1="463.3" x2="518.8" y2="462.5" stroke="#1c1c1c" stroke-width="0.9"/>
<path d="M518.4 487.3 L520.8 483.4 L523.2 487.2 Z" fill="#141414" stroke="#141414" stroke-width="0.5" stroke-linejoin="round"/>
<line x1="516.2" y1="488" x2="518.8" y2="487.2" stroke="#1c1c1c" stroke-width="0.9"/>
<path d="M517.8 510.9 L520.2 507 L522.6 510.8 Z" fill="#141414" stroke="#141414" stroke-width="0.5" stroke-linejoin="round"/>
<line x1="515.6" y1="511.6" x2="518.2" y2="510.8" stroke="#1c1c1c" stroke-width="0.9"/>
<path d="M518.4 535.1 L520.8 531.2 L523.2 535 Z" fill="#141414" stroke="#141414" stroke-width="0.5" stroke-linejoin="round"/>
<line x1="516.2" y1="535.8" x2="518.8" y2="535" stroke="#1c1c1c" stroke-width="0.9"/>
<path d="M518.4 558.9 L520.8 555 L523.2 558.8 Z" fill="#141414" stroke="#141414" stroke-width="0.5" stroke-linejoin="round"/>
<line x1="516.2" y1="559.6" x2="518.8" y2="558.8" stroke="#1c1c1c" stroke-width="0.9"/>
<text x="315.5" y="188" font-size="7.5" stroke="#141414" stroke-width="0.3" textLength="3.5" lengthAdjust="spacingAndGlyphs" fill="#141414" dominant-baseline="central">1</text>
<text x="312.8" y="202" font-size="7.5" stroke="#141414" stroke-width="0.3" textLength="8.7" lengthAdjust="spacingAndGlyphs" fill="#141414" dominant-baseline="central">12</text>
<text x="329.5" y="190.5" font-size="7.5" font-weight="bold" textLength="5" lengthAdjust="spacingAndGlyphs" fill="#141414" dominant-baseline="central">6</text>
<path d="M334 192.3 L341.5 192.3 M338.5 190.6 L342 192.3 L338.5 193.8 Z" stroke="#141414" stroke-width="1" fill="#141414"/>
<text x="365.6" y="190.5" font-size="7" stroke="#141414" stroke-width="0.3" textLength="33.4" lengthAdjust="spacingAndGlyphs" fill="#141414" dominant-baseline="central" >RoS 1114</text>
<text x="433" y="190.2" font-size="7.5" stroke="#141414" stroke-width="0.3" textLength="29" lengthAdjust="spacingAndGlyphs" fill="#141414" dominant-baseline="central">APPROX.</text>
<text x="470" y="190.8" font-size="7.5" stroke="#141414" stroke-width="0.3" textLength="17" lengthAdjust="spacingAndGlyphs" fill="#141414" dominant-baseline="central">LOC.</text>
<text x="489" y="190.8" font-size="6.6" font-style="italic" font-weight="bold" textLength="35.5" lengthAdjust="spacingAndGlyphs" fill="#141414" dominant-baseline="central">S85°29'10"E</text>
<text x="530.3" y="190.8" font-size="7.5" stroke="#141414" stroke-width="0.3" textLength="28.3" lengthAdjust="spacingAndGlyphs" fill="#141414" dominant-baseline="central">COYOTE</text>
<text x="574.3" y="190.8" font-size="7.5" font-style="italic" stroke="#141414" stroke-width="0.3" textLength="33.2" lengthAdjust="spacingAndGlyphs" fill="#141414" dominant-baseline="central">6293.80</text>
<text x="625" y="190.8" font-size="7.5" stroke="#141414" stroke-width="0.3" textLength="10.8" lengthAdjust="spacingAndGlyphs" fill="#141414" dominant-baseline="central">WY.</text>
<text x="473.7" y="175.2" font-size="7.2" stroke="#141414" stroke-width="0.3" textLength="42.9" lengthAdjust="spacingAndGlyphs" fill="#141414" dominant-baseline="central">N 1/4 COR.,</text>
<text x="473.7" y="181.6" font-size="7.2" stroke="#141414" stroke-width="0.3" textLength="48.8" lengthAdjust="spacingAndGlyphs" fill="#141414" dominant-baseline="central">PER ROS.1114</text>
<path d="M517 176.5 C524 177 527 182 528.3 194" stroke="#1c1c1c" stroke-width="0.9" fill="none"/>
<circle cx="526.4" cy="160" r="13" stroke="#1c1c1c" stroke-width="1.4" fill="none"/>
<line x1="513.4" y1="160" x2="539.4" y2="160" stroke="#1c1c1c" stroke-width="1.3"/>
<text x="524.6" y="166" font-size="8.5" stroke="#141414" stroke-width="0.3" textLength="3.6" lengthAdjust="spacingAndGlyphs" fill="#141414" dominant-baseline="central">1</text>
<text x="472.3" y="581.1" font-family="Liberation Mono, monospace" font-size="8.0" textLength="50.5" lengthAdjust="spacingAndGlyphs" fill="#141414" stroke="#141414" stroke-width="0.2" dominant-baseline="central" style="white-space:pre">S89°34'58"E</text>
<text x="544.3" y="581" font-family="Liberation Mono, monospace" font-size="8" stroke="#141414" stroke-width="0.2" textLength="32.3" lengthAdjust="spacingAndGlyphs" fill="#141414" dominant-baseline="central" style="white-space:pre">5284.97</text>
<text x="598.0" y="580.5" font-family="Liberation Mono, monospace" font-size="8.0" textLength="31.2" lengthAdjust="spacingAndGlyphs" fill="#141414" stroke="#141414" stroke-width="0.2" dominant-baseline="central" style="white-space:pre">R.o.S.1114</text>
<path d="M534.4 578 Q540.5 591 551.6 599.6" stroke="#1c1c1c" stroke-width="1.0" fill="none"/>
<text x="557.2" y="599.4" font-family="Liberation Mono, monospace" font-size="8.0" textLength="34.4" lengthAdjust="spacingAndGlyphs" fill="#141414" stroke="#141414" stroke-width="0.2" dominant-baseline="central" style="white-space:pre">S 1/4 COR.</text>
<text x="560.4" y="609.9" font-family="Liberation Mono, monospace" font-size="8.0" textLength="50.6" lengthAdjust="spacingAndGlyphs" fill="#141414" stroke="#141414" stroke-width="0.2" dominant-baseline="central" style="white-space:pre">PER ROS 1114</text>
<circle cx="532.9" cy="614" r="12.6" stroke="#1c1c1c" stroke-width="1.4" fill="none"/>
<line x1="520.3" y1="611" x2="545.5" y2="611" stroke="#1c1c1c" stroke-width="1.3"/>
<text x="528" y="621" font-size="8" stroke="#141414" stroke-width="0.3" textLength="9" lengthAdjust="spacingAndGlyphs" fill="#141414" dominant-baseline="central">11</text>
<text x="720" y="582.7" font-size="7.5" stroke="#141414" stroke-width="0.3" textLength="7.5" lengthAdjust="spacingAndGlyphs" fill="#141414" dominant-baseline="central">18</text>
<text x="735" y="582.7" font-size="7.5" stroke="#141414" stroke-width="0.3" textLength="7.5" lengthAdjust="spacingAndGlyphs" fill="#141414" dominant-baseline="central">17</text>
<text x="735.5" y="571.2" font-size="7.5" font-weight="bold" textLength="4.5" lengthAdjust="spacingAndGlyphs" fill="#141414" dominant-baseline="central">8</text>
<text transform="translate(320.4 282.75) rotate(-90)" x="0" y="0" text-anchor="middle" font-size="8" stroke="#141414" stroke-width="0.3" textLength="14.5" lengthAdjust="spacingAndGlyphs" fill="#141414" dominant-baseline="central">R5E</text>
<text transform="translate(323.3 354.5) rotate(-90)" x="0" y="0" text-anchor="middle" font-size="7.5" stroke="#1e1e1e" stroke-width="0.15" textLength="37" lengthAdjust="spacingAndGlyphs" fill="#1e1e1e" dominant-baseline="central">5068.96</text>
<text transform="translate(324 420) rotate(-90)" x="0" y="0" text-anchor="middle" font-size="8" font-style="italic" stroke="#1e1e1e" stroke-width="0.15" textLength="65" lengthAdjust="spacingAndGlyphs" fill="#1e1e1e" dominant-baseline="central">N0° 27' 57"W</text>
<text transform="translate(324.5 515.5) rotate(-90)" x="0" y="0" text-anchor="middle" font-size="7.5" stroke="#1e1e1e" stroke-width="0.15" textLength="41" lengthAdjust="spacingAndGlyphs" fill="#1e1e1e" dominant-baseline="central">R.o.S. 1114</text>
<text transform="translate(732.3 285.5) rotate(-90)" x="0" y="0" text-anchor="middle" font-size="7.5" stroke="#1e1e1e" stroke-width="0.15" textLength="47" lengthAdjust="spacingAndGlyphs" fill="#1e1e1e" dominant-baseline="central">R.o.S. 1114</text>
<text transform="translate(733 379.5) rotate(-90)" x="0" y="0" text-anchor="middle" font-size="7.5" stroke="#1e1e1e" stroke-width="0.15" textLength="35" lengthAdjust="spacingAndGlyphs" fill="#1e1e1e" dominant-baseline="central">5059.90</text>
<text transform="translate(734.6 439.25) rotate(-90)" x="0" y="0" text-anchor="middle" font-size="8" font-style="italic" stroke="#1e1e1e" stroke-width="0.15" textLength="50.5" lengthAdjust="spacingAndGlyphs" fill="#1e1e1e" dominant-baseline="central">N0° 22' 03"W</text>
<text transform="translate(330.9 210) rotate(-90)" x="0" y="0" text-anchor="middle" font-size="6.6" font-style="italic" font-weight="bold" stroke="#141414" stroke-width="0.15" textLength="20" lengthAdjust="spacingAndGlyphs" fill="#141414" dominant-baseline="central">347.50</text>
<text transform="translate(331.2 234.5) rotate(-90)" x="0" y="0" text-anchor="middle" font-size="6.6" font-style="italic" font-weight="bold" stroke="#141414" stroke-width="0.15" textLength="18" lengthAdjust="spacingAndGlyphs" fill="#141414" dominant-baseline="central">312.50</text>
<text transform="translate(330.8 282.5) rotate(-90)" x="0" y="0" text-anchor="middle" font-size="7.5" stroke="#141414" stroke-width="0.3" textLength="15" lengthAdjust="spacingAndGlyphs" fill="#141414" dominant-baseline="central">R6E</text>
<text transform="translate(335.5 537.5) rotate(-90)" x="0" y="0" text-anchor="middle" font-size="6.6" font-style="italic" font-weight="bold" stroke="#141414" stroke-width="0.15" textLength="21" lengthAdjust="spacingAndGlyphs" fill="#141414" dominant-baseline="central">312.50</text>
<text transform="translate(335.8 563) rotate(-90)" x="0" y="0" text-anchor="middle" font-size="6.6" font-style="italic" font-weight="bold" stroke="#141414" stroke-width="0.15" textLength="22" lengthAdjust="spacingAndGlyphs" fill="#141414" dominant-baseline="central">351.46</text>
<text transform="translate(423 209.25) rotate(-90)" x="0" y="0" text-anchor="middle" font-size="7" stroke="#141414" stroke-width="0.3" textLength="12.5" lengthAdjust="spacingAndGlyphs" fill="#141414" dominant-baseline="central">T R</text>
<text transform="translate(425.4 234) rotate(-90)" x="0" y="0" text-anchor="middle" font-size="6.6" font-style="italic" font-weight="bold" stroke="#141414" stroke-width="0.15" textLength="20" lengthAdjust="spacingAndGlyphs" fill="#141414" dominant-baseline="central">312.49</text>
<text transform="translate(424.3 281) rotate(-90)" x="0" y="0" text-anchor="middle" font-size="7" stroke="#141414" stroke-width="0.3" textLength="18" lengthAdjust="spacingAndGlyphs" fill="#141414" dominant-baseline="central">PARK</text>
<text transform="translate(425.5 325.85) rotate(-90)" x="0" y="0" text-anchor="middle" font-size="7" stroke="#141414" stroke-width="0.3" textLength="20.3" lengthAdjust="spacingAndGlyphs" fill="#141414" dominant-baseline="central">ANZA</text>
<text transform="translate(426.5 408.35) rotate(-90)" x="0" y="0" text-anchor="middle" font-size="5.5" font-style="italic" font-weight="bold" stroke="#141414" stroke-width="0.15" textLength="40.7" lengthAdjust="spacingAndGlyphs" fill="#141414" dominant-baseline="central">N0°27'15"W</text>
<text transform="translate(426.8 441.5) rotate(-90)" x="0" y="0" text-anchor="middle" font-size="7" stroke="#141414" stroke-width="0.3" textLength="16" lengthAdjust="spacingAndGlyphs" fill="#141414" dominant-baseline="central">LOC</text>
<text transform="translate(427.8 558.65) rotate(-90)" x="0" y="0" text-anchor="middle" font-size="7" stroke="#141414" stroke-width="0.3" textLength="29.9" lengthAdjust="spacingAndGlyphs" fill="#141414" dominant-baseline="central">APPROX</text>
<text transform="translate(430.6 209.5) rotate(-90)" x="0" y="0" text-anchor="middle" font-size="6.6" font-style="italic" font-weight="bold" stroke="#141414" stroke-width="0.15" textLength="25" lengthAdjust="spacingAndGlyphs" fill="#141414" dominant-baseline="central">348.50</text>
<text transform="translate(435.6 538.5) rotate(-90)" x="0" y="0" text-anchor="middle" font-size="6.6" font-style="italic" font-weight="bold" stroke="#141414" stroke-width="0.15" textLength="17" lengthAdjust="spacingAndGlyphs" fill="#141414" dominant-baseline="central">312.49</text>
<text transform="translate(435.8 561.5) rotate(-90)" x="0" y="0" text-anchor="middle" font-size="6.6" font-style="italic" font-weight="bold" stroke="#141414" stroke-width="0.15" textLength="17" lengthAdjust="spacingAndGlyphs" fill="#141414" dominant-baseline="central">348.19</text>
<text transform="translate(531.3 209.5) rotate(-90)" x="0" y="0" text-anchor="middle" font-size="6.6" font-style="italic" font-weight="bold" stroke="#141414" stroke-width="0.15" textLength="25" lengthAdjust="spacingAndGlyphs" fill="#141414" dominant-baseline="central">342.49</text>
<text transform="translate(531.6 234.5) rotate(-90)" x="0" y="0" text-anchor="middle" font-size="6.6" font-style="italic" font-weight="bold" stroke="#141414" stroke-width="0.15" textLength="19" lengthAdjust="spacingAndGlyphs" fill="#141414" dominant-baseline="central">312.50</text>
<text transform="translate(533 278.35) rotate(-90)" x="0" y="0" text-anchor="middle" font-size="7" stroke="#141414" stroke-width="0.3" textLength="15.3" lengthAdjust="spacingAndGlyphs" fill="#141414" dominant-baseline="central">LOC</text>
<text transform="translate(533.6 379.5) rotate(-90)" x="0" y="0" text-anchor="middle" font-size="7" stroke="#141414" stroke-width="0.3" textLength="31" lengthAdjust="spacingAndGlyphs" fill="#141414" dominant-baseline="central">APPROX</text>
<text transform="translate(537 539) rotate(-90)" x="0" y="0" text-anchor="middle" font-size="6.6" font-style="italic" font-weight="bold" stroke="#141414" stroke-width="0.15" textLength="18" lengthAdjust="spacingAndGlyphs" fill="#141414" dominant-baseline="central">312.50</text>
<text transform="translate(537 564) rotate(-90)" x="0" y="0" text-anchor="middle" font-size="6.6" font-style="italic" font-weight="bold" stroke="#141414" stroke-width="0.15" textLength="22" lengthAdjust="spacingAndGlyphs" fill="#141414" dominant-baseline="central">356.90</text>
<text transform="translate(540.3 208.5) rotate(-90)" x="0" y="0" text-anchor="middle" font-size="7" stroke="#141414" stroke-width="0.3" textLength="15" lengthAdjust="spacingAndGlyphs" fill="#141414" dominant-baseline="central">RD.</text>
<text transform="translate(542.6 372.15) rotate(-90)" x="0" y="0" text-anchor="middle" font-size="7" stroke="#141414" stroke-width="0.3" textLength="44.9" lengthAdjust="spacingAndGlyphs" fill="#141414" dominant-baseline="central">HORSESHOE</text>
<text transform="translate(542.6 431.8) rotate(-90)" x="0" y="0" text-anchor="middle" font-size="5.5" font-style="italic" font-weight="bold" stroke="#141414" stroke-width="0.15" textLength="39.6" lengthAdjust="spacingAndGlyphs" fill="#141414" dominant-baseline="central">N0°26'35"W</text>
<text transform="translate(628.6 212.7) rotate(-90)" x="0" y="0" text-anchor="middle" font-size="7" stroke="#141414" stroke-width="0.3" textLength="8.2" lengthAdjust="spacingAndGlyphs" fill="#141414" dominant-baseline="central">RD</text>
<text transform="translate(629.4 237) rotate(-90)" x="0" y="0" text-anchor="middle" font-size="6.6" font-style="italic" font-weight="bold" stroke="#141414" stroke-width="0.15" textLength="18" lengthAdjust="spacingAndGlyphs" fill="#141414" dominant-baseline="central">312.49</text>
<text transform="translate(629.4 261.5) rotate(-90)" x="0" y="0" text-anchor="middle" font-size="7" stroke="#141414" stroke-width="0.3" textLength="25" lengthAdjust="spacingAndGlyphs" fill="#141414" dominant-baseline="central">RANCH</text>
<text transform="translate(630.2 302) rotate(-90)" x="0" y="0" text-anchor="middle" font-size="7" stroke="#141414" stroke-width="0.3" textLength="20" lengthAdjust="spacingAndGlyphs" fill="#141414" dominant-baseline="central">HEAD</text>
<text transform="translate(631.2 369.5) rotate(-90)" x="0" y="0" text-anchor="middle" font-size="7" stroke="#141414" stroke-width="0.3" textLength="27" lengthAdjust="spacingAndGlyphs" fill="#141414" dominant-baseline="central">INDIAN</text>
<text transform="translate(632.2 410) rotate(-90)" x="0" y="0" text-anchor="middle" font-size="5.5" font-style="italic" font-weight="bold" stroke="#141414" stroke-width="0.15" textLength="38" lengthAdjust="spacingAndGlyphs" fill="#141414" dominant-baseline="central">N0°26'18"W</text>
<text transform="translate(633.6 490.15) rotate(-90)" x="0" y="0" text-anchor="middle" font-size="7" stroke="#141414" stroke-width="0.3" textLength="15.3" lengthAdjust="spacingAndGlyphs" fill="#141414" dominant-baseline="central">LOC</text>
<text transform="translate(634.4 554.5) rotate(-90)" x="0" y="0" text-anchor="middle" font-size="7" stroke="#141414" stroke-width="0.3" textLength="33" lengthAdjust="spacingAndGlyphs" fill="#141414" dominant-baseline="central">APPROX.</text>
<text transform="translate(637.5 206) rotate(-90)" x="0" y="0" text-anchor="middle" font-size="6.6" font-style="italic" font-weight="bold" stroke="#141414" stroke-width="0.15" textLength="18" lengthAdjust="spacingAndGlyphs" fill="#141414" dominant-baseline="central">342.49</text>
<text transform="translate(642.4 537.5) rotate(-90)" x="0" y="0" text-anchor="middle" font-size="6.6" font-style="italic" font-weight="bold" stroke="#141414" stroke-width="0.15" textLength="21" lengthAdjust="spacingAndGlyphs" fill="#141414" dominant-baseline="central">312.49</text>
<text transform="translate(642.4 561.5) rotate(-90)" x="0" y="0" text-anchor="middle" font-size="6.6" font-style="italic" font-weight="bold" stroke="#141414" stroke-width="0.15" textLength="23" lengthAdjust="spacingAndGlyphs" fill="#141414" dominant-baseline="central">344.97</text>
<text transform="translate(721.3 209) rotate(-90)" x="0" y="0" text-anchor="middle" font-size="6.6" font-style="italic" font-weight="bold" stroke="#141414" stroke-width="0.15" textLength="24" lengthAdjust="spacingAndGlyphs" fill="#141414" dominant-baseline="central">343.65</text>
<text transform="translate(721.5 233.5) rotate(-90)" x="0" y="0" text-anchor="middle" font-size="6.6" font-style="italic" font-weight="bold" stroke="#141414" stroke-width="0.15" textLength="21" lengthAdjust="spacingAndGlyphs" fill="#141414" dominant-baseline="central">312.49</text>
<text transform="translate(723.9 537.5) rotate(-90)" x="0" y="0" text-anchor="middle" font-size="6.6" font-style="italic" font-weight="bold" stroke="#141414" stroke-width="0.15" textLength="21" lengthAdjust="spacingAndGlyphs" fill="#141414" dominant-baseline="central">312.49</text>
<text transform="translate(723.9 562) rotate(-90)" x="0" y="0" text-anchor="middle" font-size="6.6" font-style="italic" font-weight="bold" stroke="#141414" stroke-width="0.15" textLength="20" lengthAdjust="spacingAndGlyphs" fill="#141414" dominant-baseline="central">341.60</text>
<path d="M616.8 184 L625.5 199.3 L632.3 209.5 L639.2 224.2 L641.5 229.5 M647.5 246 L664 284 M666 291.5 L668.6 295.5 M681 335 L682.3 338.4 M683.6 342 L685 346 M689.5 358 L694.5 380 C696.5 390 701 400 712.8 408.5" stroke="#1c1c1c" stroke-width="1.0" fill="none"/>
<text transform="translate(649.12 242.12) rotate(66)" font-size="7.5" text-anchor="middle" dominant-baseline="central" fill="#141414" stroke="#141414" stroke-width="0.3">D</text>
<text transform="translate(651.38 247.38) rotate(66)" font-size="7.5" text-anchor="middle" dominant-baseline="central" fill="#141414" stroke="#141414" stroke-width="0.3">E</text>
<text transform="translate(657 261) rotate(66)" font-size="7.5" text-anchor="middle" dominant-baseline="central" fill="#141414" stroke="#141414" stroke-width="0.3">A</text>
<text transform="translate(660 267) rotate(66)" font-size="7.5" text-anchor="middle" dominant-baseline="central" fill="#141414" stroke="#141414" stroke-width="0.3">N</text>
<text transform="translate(663 273) rotate(66)" font-size="7.5" text-anchor="middle" dominant-baseline="central" fill="#141414" stroke="#141414" stroke-width="0.3">Z</text>
<text transform="translate(666 279) rotate(66)" font-size="7.5" text-anchor="middle" dominant-baseline="central" fill="#141414" stroke="#141414" stroke-width="0.3">A</text>
<text transform="translate(686.25 346.1) rotate(68)" font-size="7" text-anchor="middle" dominant-baseline="central" fill="#141414" stroke="#141414" stroke-width="0.3">T</text>
<text transform="translate(688.75 351.3) rotate(68)" font-size="7" text-anchor="middle" dominant-baseline="central" fill="#141414" stroke="#141414" stroke-width="0.3">R</text>
<text transform="translate(691.25 356.5) rotate(68)" font-size="7" text-anchor="middle" dominant-baseline="central" fill="#141414" stroke="#141414" stroke-width="0.3">A</text>
<text transform="translate(693.75 361.7) rotate(68)" font-size="7" text-anchor="middle" dominant-baseline="central" fill="#141414" stroke="#141414" stroke-width="0.3">I</text>
<text transform="translate(696.25 366.9) rotate(68)" font-size="7" text-anchor="middle" dominant-baseline="central" fill="#141414" stroke="#141414" stroke-width="0.3">L</text>
<line x1="531.4" y1="257.5" x2="531.4" y2="268" stroke="#1c1c1c" stroke-width="0.9"/>
<line x1="531.67" y1="295.2" x2="531.67" y2="306.2" stroke="#1c1c1c" stroke-width="0.9"/>
<line x1="531.96" y1="318.2" x2="531.96" y2="331.2" stroke="#1c1c1c" stroke-width="0.9"/>
<line x1="532.27" y1="343" x2="532.27" y2="357" stroke="#1c1c1c" stroke-width="0.9"/>
<line x1="533.08" y1="410.5" x2="533.08" y2="424.5" stroke="#1c1c1c" stroke-width="0.9"/>
<line x1="533.4" y1="438.6" x2="533.4" y2="449.6" stroke="#1c1c1c" stroke-width="0.9"/>
<line x1="533.78" y1="467.8" x2="533.78" y2="482.8" stroke="#1c1c1c" stroke-width="0.9"/>
<line x1="534.02" y1="488.7" x2="534.02" y2="501.7" stroke="#1c1c1c" stroke-width="0.9"/>
<line x1="534.23" y1="506.6" x2="534.23" y2="518.6" stroke="#1c1c1c" stroke-width="0.9"/>
<path d="M429.01 220.75 Q430.51 219.05 433.11 218.65" stroke="#141414" stroke-width="1.1" fill="none"/>
<path d="M432.11 216.75 L438.31 218.05 L432.11 219.75 Z" fill="#141414"/>
<path d="M534.51 220.7 Q532.71 219 530.11 218.7" stroke="#141414" stroke-width="1.1" fill="none"/>
<path d="M530.91 217.1 L524.51 218.6 L530.91 220.1 Z" fill="#141414"/>
<path d="M634.52 220.85 Q636.02 219.15 638.62 218.75" stroke="#141414" stroke-width="1.1" fill="none"/>
<path d="M637.62 216.85 L643.82 218.15 L637.62 219.85 Z" fill="#141414"/>
<path d="M724.27 220.8 Q722.47 219.1 719.87 218.8" stroke="#141414" stroke-width="1.1" fill="none"/>
<path d="M720.67 217.2 L714.27 218.7 L720.67 220.2 Z" fill="#141414"/>
<path d="M429.3 244.6 Q430.8 242.9 433.4 242.5" stroke="#141414" stroke-width="1.1" fill="none"/>
<path d="M432.4 240.6 L438.6 241.9 L432.4 243.6 Z" fill="#141414"/>
<path d="M534.8 244.39 Q533 242.69 530.4 242.39" stroke="#141414" stroke-width="1.1" fill="none"/>
<path d="M531.2 240.79 L524.8 242.29 L531.2 243.79 Z" fill="#141414"/>
<path d="M634.81 244.39 Q636.31 242.69 638.91 242.29" stroke="#141414" stroke-width="1.1" fill="none"/>
<path d="M637.91 240.39 L644.11 241.69 L637.91 243.39 Z" fill="#141414"/>
<path d="M724.6 244.2 Q722.8 242.5 720.2 242.2" stroke="#141414" stroke-width="1.1" fill="none"/>
<path d="M721 240.6 L714.6 242.1 L721 243.6 Z" fill="#141414"/>
<path d="M429.59 268.47 Q431.09 266.77 433.69 266.37" stroke="#141414" stroke-width="1.1" fill="none"/>
<path d="M432.69 264.47 L438.89 265.77 L432.69 267.47 Z" fill="#141414"/>
<path d="M535.09 268.13 Q533.29 266.43 530.69 266.13" stroke="#141414" stroke-width="1.1" fill="none"/>
<path d="M531.49 264.53 L525.09 266.03 L531.49 267.53 Z" fill="#141414"/>
<path d="M635.1 268.01 Q636.6 266.31 639.2 265.91" stroke="#141414" stroke-width="1.1" fill="none"/>
<path d="M638.2 264.01 L644.4 265.31 L638.2 267.01 Z" fill="#141414"/>
<path d="M724.93 267.71 Q723.13 266.01 720.53 265.71" stroke="#141414" stroke-width="1.1" fill="none"/>
<path d="M721.33 264.11 L714.93 265.61 L721.33 267.11 Z" fill="#141414"/>
<path d="M429.87 291.37 Q431.37 289.67 433.97 289.27" stroke="#141414" stroke-width="1.1" fill="none"/>
<path d="M432.97 287.37 L439.17 288.67 L432.97 290.37 Z" fill="#141414"/>
<path d="M535.36 290.93 Q533.56 289.23 530.96 288.93" stroke="#141414" stroke-width="1.1" fill="none"/>
<path d="M531.76 287.33 L525.36 288.83 L531.76 290.33 Z" fill="#141414"/>
<path d="M635.38 290.7 Q636.88 289 639.48 288.6" stroke="#141414" stroke-width="1.1" fill="none"/>
<path d="M638.48 286.7 L644.68 288 L638.48 289.7 Z" fill="#141414"/>
<path d="M725.25 290.31 Q723.45 288.61 720.85 288.31" stroke="#141414" stroke-width="1.1" fill="none"/>
<path d="M721.65 286.71 L715.25 288.21 L721.65 289.71 Z" fill="#141414"/>
<path d="M430.14 314.34 Q431.64 312.64 434.24 312.24" stroke="#141414" stroke-width="1.1" fill="none"/>
<path d="M433.24 310.34 L439.44 311.64 L433.24 313.34 Z" fill="#141414"/>
<path d="M535.64 313.88 Q533.84 312.18 531.24 311.88" stroke="#141414" stroke-width="1.1" fill="none"/>
<path d="M532.04 310.28 L525.64 311.78 L532.04 313.28 Z" fill="#141414"/>
<path d="M635.67 313.63 Q637.17 311.93 639.77 311.53" stroke="#141414" stroke-width="1.1" fill="none"/>
<path d="M638.77 309.63 L644.97 310.93 L638.77 312.63 Z" fill="#141414"/>
<path d="M725.58 313.21 Q723.78 311.51 721.18 311.21" stroke="#141414" stroke-width="1.1" fill="none"/>
<path d="M721.98 309.61 L715.58 311.11 L721.98 312.61 Z" fill="#141414"/>
<path d="M430.43 338.29 Q431.93 336.59 434.53 336.19" stroke="#141414" stroke-width="1.1" fill="none"/>
<path d="M433.53 334.29 L439.73 335.59 L433.53 337.29 Z" fill="#141414"/>
<path d="M535.93 337.99 Q534.13 336.29 531.53 335.99" stroke="#141414" stroke-width="1.1" fill="none"/>
<path d="M532.33 334.39 L525.93 335.89 L532.33 337.39 Z" fill="#141414"/>
<path d="M635.96 337.89 Q637.46 336.19 640.06 335.79" stroke="#141414" stroke-width="1.1" fill="none"/>
<path d="M639.06 333.89 L645.26 335.19 L639.06 336.89 Z" fill="#141414"/>
<path d="M725.92 337.61 Q724.12 335.91 721.52 335.61" stroke="#141414" stroke-width="1.1" fill="none"/>
<path d="M722.32 334.01 L715.92 335.51 L722.32 337.01 Z" fill="#141414"/>
<path d="M430.72 362.04 Q432.22 360.34 434.82 359.94" stroke="#141414" stroke-width="1.1" fill="none"/>
<path d="M433.82 358.04 L440.02 359.34 L433.82 361.04 Z" fill="#141414"/>
<path d="M536.22 361.68 Q534.42 359.98 531.82 359.68" stroke="#141414" stroke-width="1.1" fill="none"/>
<path d="M532.62 358.08 L526.22 359.58 L532.62 361.08 Z" fill="#141414"/>
<path d="M636.26 361.53 Q637.76 359.83 640.36 359.43" stroke="#141414" stroke-width="1.1" fill="none"/>
<path d="M639.36 357.53 L645.56 358.83 L639.36 360.53 Z" fill="#141414"/>
<path d="M726.26 361.21 Q724.46 359.51 721.86 359.21" stroke="#141414" stroke-width="1.1" fill="none"/>
<path d="M722.66 357.61 L716.26 359.11 L722.66 360.61 Z" fill="#141414"/>
<path d="M431 385.59 Q432.5 383.89 435.1 383.49" stroke="#141414" stroke-width="1.1" fill="none"/>
<path d="M434.1 381.59 L440.3 382.89 L434.1 384.59 Z" fill="#141414"/>
<path d="M536.5 385.29 Q534.7 383.59 532.1 383.29" stroke="#141414" stroke-width="1.1" fill="none"/>
<path d="M532.9 381.69 L526.5 383.19 L532.9 384.69 Z" fill="#141414"/>
<path d="M636.55 385.19 Q638.05 383.49 640.65 383.09" stroke="#141414" stroke-width="1.1" fill="none"/>
<path d="M639.65 381.19 L645.85 382.49 L639.65 384.19 Z" fill="#141414"/>
<path d="M726.59 384.91 Q724.79 383.21 722.19 382.91" stroke="#141414" stroke-width="1.1" fill="none"/>
<path d="M722.99 381.31 L716.59 382.81 L722.99 384.31 Z" fill="#141414"/>
<path d="M431.28 408.64 Q432.78 406.94 435.38 406.54" stroke="#141414" stroke-width="1.1" fill="none"/>
<path d="M434.38 404.64 L440.58 405.94 L434.38 407.64 Z" fill="#141414"/>
<path d="M536.78 408.18 Q534.98 406.48 532.38 406.18" stroke="#141414" stroke-width="1.1" fill="none"/>
<path d="M533.18 404.58 L526.78 406.08 L533.18 407.58 Z" fill="#141414"/>
<path d="M636.83 407.93 Q638.33 406.23 640.93 405.83" stroke="#141414" stroke-width="1.1" fill="none"/>
<path d="M639.93 403.93 L646.13 405.23 L639.93 406.93 Z" fill="#141414"/>
<path d="M726.91 407.51 Q725.11 405.81 722.51 405.51" stroke="#141414" stroke-width="1.1" fill="none"/>
<path d="M723.31 403.91 L716.91 405.41 L723.31 406.91 Z" fill="#141414"/>
<path d="M431.56 431.71 Q433.06 430.01 435.66 429.61" stroke="#141414" stroke-width="1.1" fill="none"/>
<path d="M434.66 427.71 L440.86 429.01 L434.66 430.71 Z" fill="#141414"/>
<path d="M537.05 431.22 Q535.25 429.52 532.65 429.22" stroke="#141414" stroke-width="1.1" fill="none"/>
<path d="M533.45 427.62 L527.05 429.12 L533.45 430.62 Z" fill="#141414"/>
<path d="M431.84 454.89 Q433.34 453.19 435.94 452.79" stroke="#141414" stroke-width="1.1" fill="none"/>
<path d="M434.94 450.89 L441.14 452.19 L434.94 453.89 Z" fill="#141414"/>
<path d="M537.33 454.37 Q535.53 452.67 532.93 452.37" stroke="#141414" stroke-width="1.1" fill="none"/>
<path d="M533.73 450.77 L527.33 452.27 L533.73 453.77 Z" fill="#141414"/>
<path d="M432.12 477.87 Q433.62 476.17 436.22 475.77" stroke="#141414" stroke-width="1.1" fill="none"/>
<path d="M435.22 473.87 L441.42 475.17 L435.22 476.87 Z" fill="#141414"/>
<path d="M537.61 477.43 Q535.81 475.73 533.21 475.43" stroke="#141414" stroke-width="1.1" fill="none"/>
<path d="M534.01 473.83 L527.61 475.33 L534.01 476.83 Z" fill="#141414"/>
<path d="M432.4 501.77 Q433.9 500.07 436.5 499.67" stroke="#141414" stroke-width="1.1" fill="none"/>
<path d="M435.5 497.77 L441.7 499.07 L435.5 500.77 Z" fill="#141414"/>
<path d="M537.9 501.33 Q536.1 499.63 533.5 499.33" stroke="#141414" stroke-width="1.1" fill="none"/>
<path d="M534.3 497.73 L527.9 499.23 L534.3 500.73 Z" fill="#141414"/>
<path d="M432.69 525.41 Q434.19 523.71 436.79 523.31" stroke="#141414" stroke-width="1.1" fill="none"/>
<path d="M435.79 521.41 L441.99 522.71 L435.79 524.41 Z" fill="#141414"/>
<path d="M538.18 524.92 Q536.38 523.22 533.78 522.92" stroke="#141414" stroke-width="1.1" fill="none"/>
<path d="M534.58 521.32 L528.18 522.82 L534.58 524.32 Z" fill="#141414"/>
<path d="M432.98 549.42 Q434.48 547.72 437.08 547.32" stroke="#141414" stroke-width="1.1" fill="none"/>
<path d="M436.08 545.42 L442.28 546.72 L436.08 548.42 Z" fill="#141414"/>
<path d="M538.48 549.24 Q536.68 547.54 534.08 547.24" stroke="#141414" stroke-width="1.1" fill="none"/>
<path d="M534.88 545.64 L528.48 547.14 L534.88 548.64 Z" fill="#141414"/>
<path d="M433.3 575.95 Q434.8 574.25 437.4 573.85" stroke="#141414" stroke-width="1.1" fill="none"/>
<path d="M436.4 571.95 L442.6 573.25 L436.4 574.95 Z" fill="#141414"/>
<path d="M538.8 575.69 Q537 573.99 534.4 573.69" stroke="#141414" stroke-width="1.1" fill="none"/>
<path d="M535.2 572.09 L528.8 573.59 L535.2 575.09 Z" fill="#141414"/>
<path d="M428.9 196.3 Q430.4 198.2 433 198.6" stroke="#141414" stroke-width="1.1" fill="none"/>
<path d="M432 197.5 L438.2 199 L432 200.3 Z" fill="#141414"/>
<path d="M534 196.3 Q532.2 198.1 529.6 198.4" stroke="#141414" stroke-width="1.1" fill="none"/>
<path d="M530.4 197 L524 198.5 L530.4 200 Z" fill="#141414"/>
<path d="M536.7 196.3 Q538.2 198.2 540.8 198.6" stroke="#141414" stroke-width="1.1" fill="none"/>
<path d="M539.8 197.5 L546 199 L539.8 200.3 Z" fill="#141414"/>
<path d="M631.8 196.6 Q628.5 199 624 199.6" stroke="#141414" stroke-width="1.1" fill="none"/>
<path d="M624.5 198.1 L616.2 200.3 L624.5 201.4 Z" fill="#141414"/>
<path d="M634.4 196.3 Q635.9 198.2 638.5 198.6" stroke="#141414" stroke-width="1.1" fill="none"/>
<path d="M637.5 197.5 L643.7 199 L637.5 200.3 Z" fill="#141414"/>
<path d="M725.3 194.8 Q723.5 192 718.5 191.6" stroke="#141414" stroke-width="1.1" fill="none"/>
<path d="M719 189.8 L712.4 191.1 L719 192.9 Z" fill="#141414"/>
<circle cx="240.7" cy="148.5" r="4.2" stroke="#1c1c1c" stroke-width="1.2" fill="none"/>
<line x1="233.3" y1="148.5" x2="247" y2="148.5" stroke="#1c1c1c" stroke-width="1"/>
<line x1="240.7" y1="141.5" x2="240.7" y2="155.5" stroke="#1c1c1c" stroke-width="1"/>
<text transform="translate(31.9 221.5) rotate(-90)" x="0" y="0" text-anchor="middle" font-size="7.5" font-style="italic" font-weight="bold" stroke="#141414" stroke-width="0.3" textLength="29" lengthAdjust="spacingAndGlyphs" fill="#141414" dominant-baseline="central">140-6</text>
<circle cx="282.8" cy="340" r="12.8" stroke="#1c1c1c" stroke-width="1.4" fill="none"/>
<line x1="270" y1="339.2" x2="295.6" y2="339.2" stroke="#1c1c1c" stroke-width="1.2"/>
<text x="276" y="334.4" font-size="8" stroke="#141414" stroke-width="0.3" textLength="10.8" lengthAdjust="spacingAndGlyphs" fill="#141414" dominant-baseline="central">139</text>
<text x="278.7" y="346.8" font-size="9" stroke="#141414" stroke-width="0.3" textLength="9.1" lengthAdjust="spacingAndGlyphs" fill="#141414" dominant-baseline="central">15</text>
<circle cx="789.6" cy="328.5" r="12.8" stroke="#1c1c1c" stroke-width="1.4" fill="none"/>
<line x1="776.8" y1="327.4" x2="802.4" y2="327.4" stroke="#1c1c1c" stroke-width="1.2"/>
<text x="786.8" y="334.2" font-size="9" font-style="italic" stroke="#141414" stroke-width="0.3" textLength="4" lengthAdjust="spacingAndGlyphs" fill="#141414" dominant-baseline="central">7</text>
<text x="864.9" y="106.9" font-size="11.5" stroke="#141414" stroke-width="0.3" textLength="49" lengthAdjust="spacingAndGlyphs" fill="#141414" dominant-baseline="central">140 – 06</text>
<line x1="956.3" y1="85" x2="956.6" y2="138" stroke="#1c1c1c" stroke-width="1.2"/>
<path d="M956.3 85 L960.6 105 L956.4 106.8" stroke="#1c1c1c" stroke-width="1.1" fill="none"/>
<text x="949.6" y="118.5" font-size="8.5" stroke="#141414" stroke-width="0.3" textLength="33.3" lengthAdjust="spacingAndGlyphs" fill="#141414" dominant-baseline="central">1"=800'</text>
<path d="M952.5 133 L952.5 125.5 L961 133 L961 125.5" stroke="#1c1c1c" stroke-width="1.2" fill="none"/>
<path d="M886.9 207.5 L880.2 218.3 M889 216.3 L894 215 M899.6 212 C900.5 209.5 904 208.5 905.4 210.5 C906.5 212.5 902 217 900.6 219.8 C902.5 219.3 904.5 219 906.4 219.2 M914 211.5 C913 209.5 909.5 209.8 909.3 212 C909.2 214 912.5 214.3 914 212 C913.5 215 912 218 910.8 220 M918.8 216.2 L921.3 215.8 M929.8 219.6 L930.2 219.9 M936.5 212 C935.5 210 932 210.3 931.8 212.5 C931.7 214.5 935 214.8 936.5 212.5 C936 215.5 934.5 218 933.3 220 M944.5 208.3 L940.2 220.5 M953.5 213.5 C951 212.5 948.5 214.5 948.8 217 C949.2 219.5 952.5 219 955 217.5 M957 206.5 L955.5 218.8 M959.5 207.5 L958.8 218.3 C961 213 965.5 212.5 966 215.5 C966.3 218 962 219.3 959.5 218 M970.5 210.8 C972.5 208.5 974.5 211.3 977 210 L983.5 209" stroke="#141414" stroke-width="1.5" fill="none" stroke-linecap="round" stroke-linejoin="round"/>
<path d="M868.6 225 L969.8 225 L971 539.4 L869.8 539.4 Z" stroke="#1c1c1c" stroke-width="1.6" fill="none"/>
<line x1="868.6" y1="242.8" x2="969.8" y2="242.8" stroke="#1c1c1c" stroke-width="1.6"/>
<text x="872.6" y="234" font-size="13.5" font-weight="bold" textLength="65.1" lengthAdjust="spacingAndGlyphs" fill="#141414" dominant-baseline="central">CHANGES</text>
<line x1="886.8" y1="242.8" x2="888" y2="539.4" stroke="#1c1c1c" stroke-width="1.3"/>
<line x1="910.6" y1="242.8" x2="911.8" y2="539.4" stroke="#1c1c1c" stroke-width="1.3"/>
<line x1="934.8" y1="242.8" x2="936" y2="539.4" stroke="#1c1c1c" stroke-width="1.3"/>
<line x1="946.8" y1="242.8" x2="948" y2="539.4" stroke="#1c1c1c" stroke-width="1.3"/>
<text x="869.8" y="249.6" font-size="7.6" font-weight="bold" textLength="15.7" lengthAdjust="spacingAndGlyphs" fill="#141414" dominant-baseline="central">BLK</text>
<text x="889.5" y="249.6" font-size="7.6" font-weight="bold" textLength="18" lengthAdjust="spacingAndGlyphs" fill="#141414" dominant-baseline="central">OLD</text>
<text x="913" y="249.6" font-size="7.6" font-weight="bold" textLength="19" lengthAdjust="spacingAndGlyphs" fill="#141414" dominant-baseline="central">NEW</text>
<text x="935.5" y="249.6" font-size="7.6" font-weight="bold" textLength="10.5" lengthAdjust="spacingAndGlyphs" fill="#141414" dominant-baseline="central">YR</text>
<text x="950" y="249.6" font-size="7.6" font-weight="bold" textLength="16.5" lengthAdjust="spacingAndGlyphs" fill="#141414" dominant-baseline="central">CUT</text>
<line x1="868.6" y1="256" x2="969.8" y2="256" stroke="#1c1c1c" stroke-width="1.2"/>
<line x1="868.6" y1="257.6" x2="969.8" y2="257.6" stroke="#777" stroke-width="1.2"/>
<line x1="868.77" y1="268.5" x2="969.97" y2="268.5" stroke="#1c1c1c" stroke-width="1"/>
<line x1="868.81" y1="278.8" x2="970.01" y2="278.8" stroke="#1c1c1c" stroke-width="1"/>
<line x1="868.85" y1="289.2" x2="970.05" y2="289.2" stroke="#1c1c1c" stroke-width="1"/>
<line x1="868.88" y1="299.5" x2="970.08" y2="299.5" stroke="#1c1c1c" stroke-width="1"/>
<line x1="868.92" y1="310.1" x2="970.12" y2="310.1" stroke="#1c1c1c" stroke-width="1"/>
<line x1="868.96" y1="320.5" x2="970.16" y2="320.5" stroke="#1c1c1c" stroke-width="1"/>
<line x1="869" y1="330.6" x2="970.2" y2="330.6" stroke="#1c1c1c" stroke-width="1"/>
<line x1="869.04" y1="341.2" x2="970.24" y2="341.2" stroke="#1c1c1c" stroke-width="1"/>
<line x1="869.09" y1="352.1" x2="970.29" y2="352.1" stroke="#1c1c1c" stroke-width="1"/>
<line x1="869.12" y1="362.4" x2="970.32" y2="362.4" stroke="#1c1c1c" stroke-width="1"/>
<line x1="869.16" y1="372.7" x2="970.36" y2="372.7" stroke="#1c1c1c" stroke-width="1"/>
<line x1="869.2" y1="383.4" x2="970.4" y2="383.4" stroke="#1c1c1c" stroke-width="1"/>
<line x1="869.24" y1="393.9" x2="970.44" y2="393.9" stroke="#1c1c1c" stroke-width="1"/>
<line x1="869.29" y1="404.5" x2="970.49" y2="404.5" stroke="#1c1c1c" stroke-width="1"/>
<line x1="869.33" y1="415.2" x2="970.53" y2="415.2" stroke="#1c1c1c" stroke-width="1"/>
<line x1="869.37" y1="425.5" x2="970.57" y2="425.5" stroke="#1c1c1c" stroke-width="1"/>
<line x1="869.4" y1="435.6" x2="970.6" y2="435.6" stroke="#1c1c1c" stroke-width="1"/>
<line x1="869.44" y1="446.3" x2="970.64" y2="446.3" stroke="#1c1c1c" stroke-width="1"/>
<line x1="869.48" y1="456.6" x2="970.68" y2="456.6" stroke="#1c1c1c" stroke-width="1"/>
<line x1="869.52" y1="467.2" x2="970.72" y2="467.2" stroke="#1c1c1c" stroke-width="1"/>
<line x1="869.56" y1="477.8" x2="970.76" y2="477.8" stroke="#1c1c1c" stroke-width="1"/>
<line x1="869.6" y1="488.1" x2="970.8" y2="488.1" stroke="#1c1c1c" stroke-width="1"/>
<line x1="869.64" y1="498.4" x2="970.84" y2="498.4" stroke="#1c1c1c" stroke-width="1"/>
<line x1="869.68" y1="508.8" x2="970.88" y2="508.8" stroke="#1c1c1c" stroke-width="1"/>
<line x1="869.72" y1="519.2" x2="970.92" y2="519.2" stroke="#1c1c1c" stroke-width="1"/>
<line x1="869.76" y1="529.5" x2="970.96" y2="529.5" stroke="#1c1c1c" stroke-width="1"/>
<text x="888.5" y="263.4" font-size="7" font-style="italic" font-weight="bold" textLength="19" lengthAdjust="spacingAndGlyphs" fill="#141414" dominant-baseline="central">1,2&amp;3</text>
<text x="912.5" y="263.4" font-size="7" font-style="italic" font-weight="bold" textLength="20.5" lengthAdjust="spacingAndGlyphs" fill="#141414" dominant-baseline="central">4-67</text>
<text x="936" y="263.4" font-size="7" font-style="italic" font-weight="bold" textLength="9.5" lengthAdjust="spacingAndGlyphs" fill="#141414" dominant-baseline="central">81</text>
<text x="949" y="263.4" font-size="7" font-style="italic" font-weight="bold" textLength="18" lengthAdjust="spacingAndGlyphs" fill="#141414" dominant-baseline="central">1218</text>
<ellipse cx="71.9" cy="674.6" rx="17.8" ry="10.2" transform="rotate(-8 71.9 674.6)" stroke="#1c1c1c" stroke-width="1.1" fill="none"/>
<text x="63.6" y="670.8" font-size="6" font-style="italic" stroke="#141414" stroke-width="0.3" textLength="14.6" lengthAdjust="spacingAndGlyphs" fill="#141414" dominant-baseline="central">ELK</text>
<text x="61.3" y="677.8" font-size="6" font-style="italic" stroke="#141414" stroke-width="0.3" textLength="25.9" lengthAdjust="spacingAndGlyphs" fill="#141414" dominant-baseline="central">5-29-80</text>
<text x="68" y="692.1" font-family="Liberation Mono, monospace" font-weight="bold" font-size="9.6" textLength="184.4" lengthAdjust="spacingAndGlyphs" fill="#222" dominant-baseline="central" style="white-space:pre">SAN DIEGO COUNTY ASSESSOR'S MAP BK 140 PG 06</text>
<rect x="271.7" y="665.5" width="216.8" height="30.5" stroke="#1c1c1c" stroke-width="1.2" fill="none"/>
<text x="283.4" y="671.9" font-size="6" style="white-space:pre" font-weight="bold" textLength="194.6" lengthAdjust="spacingAndGlyphs" fill="#141414" dominant-baseline="central">THIS MAP WAS PREPARED FOR ASSESSMENT PURPOSES ONLY.   NO LIABILITY IS</text>
<text x="284.6" y="682" font-size="6" style="white-space:pre" font-weight="bold" textLength="191" lengthAdjust="spacingAndGlyphs" fill="#141414" dominant-baseline="central">ASSUMED FOR THE ACCURACY OF THE DATA SHOWN.     ASSESSOR'S PARCELS</text>
<text x="284.6" y="691.8" font-size="6" style="white-space:pre" font-weight="bold" textLength="190.4" lengthAdjust="spacingAndGlyphs" fill="#141414" dominant-baseline="central">MAY NOT COMPLY WITH LOCAL SUBDIVISION  OR  BUILDING ORDINANCES.</text>
<text x="784.4" y="692.8" font-family="Liberation Mono, monospace" font-size="14.5" textLength="161.8" lengthAdjust="spacingAndGlyphs" fill="#1e1e1e" stroke="#1e1e1e" stroke-width="0.35" dominant-baseline="central" style="white-space:pre">SEC 7 - T10S-R6E - ROS 1114</text>
<text x="990" y="792.6" font-size="13" font-weight="bold" textLength="35" lengthAdjust="spacingAndGlyphs" fill="#e3e3e3">CRMLS</text>
</svg>
</body></html>
